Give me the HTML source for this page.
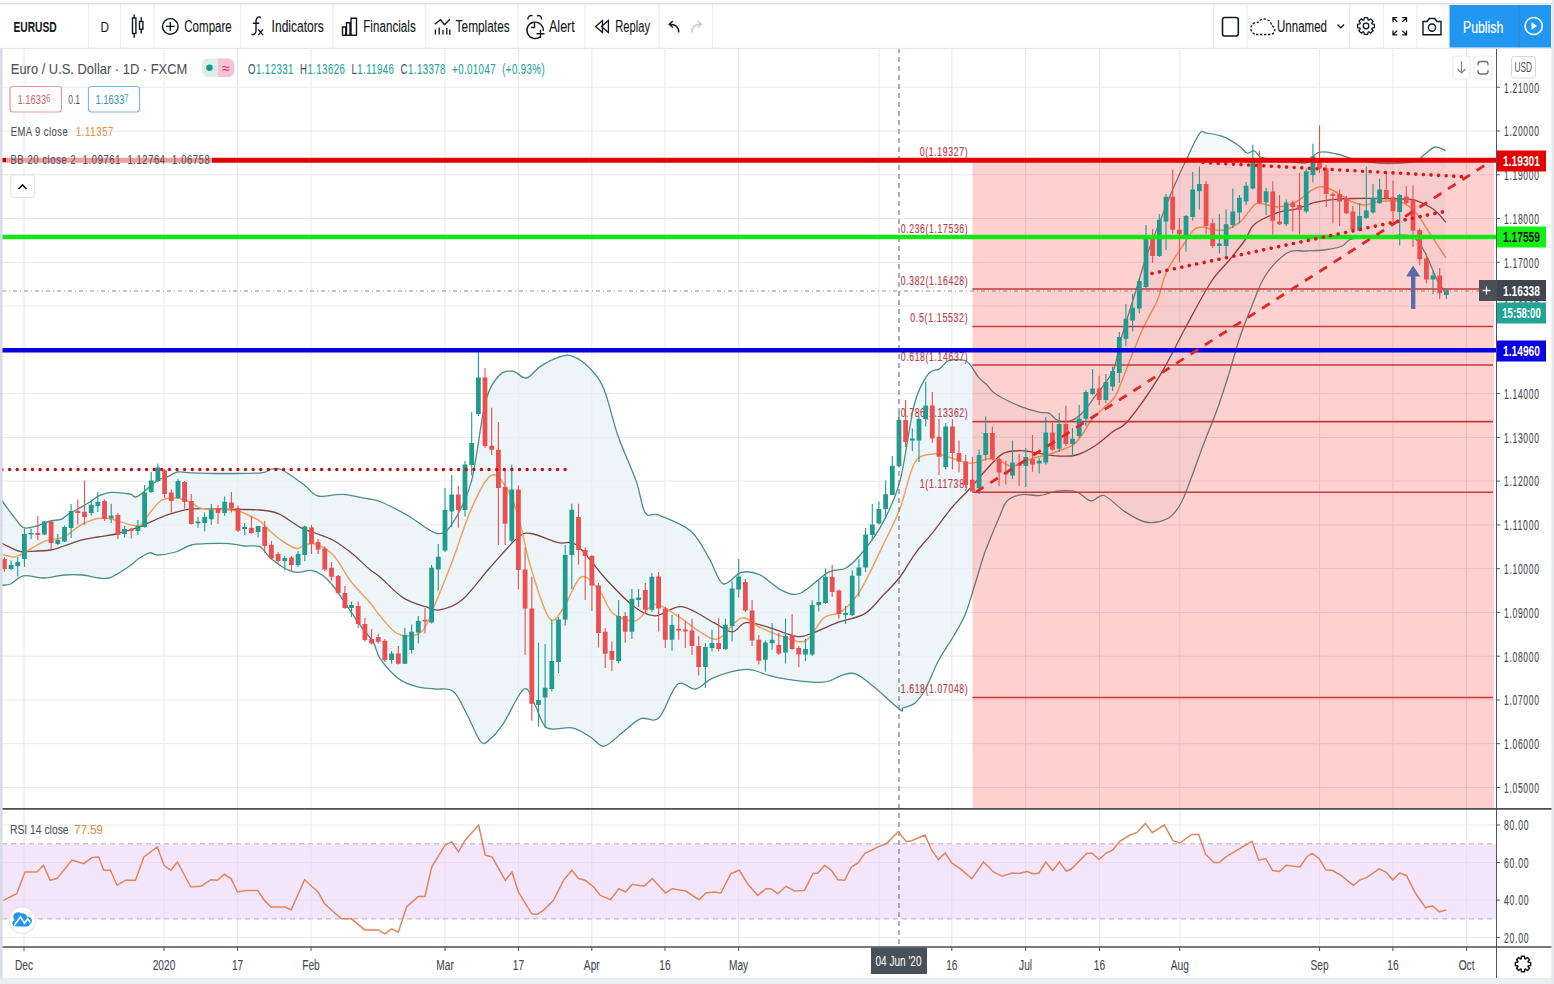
<!DOCTYPE html><html><head><meta charset="utf-8"><style>
html,body{margin:0;padding:0;background:#fff;width:1554px;height:984px;overflow:hidden}
svg{position:absolute;left:0;top:0;font-family:"Liberation Sans", sans-serif}
text{white-space:pre}
</style></head><body>
<svg width="1554" height="984" viewBox="0 0 1554 984">
<path d="M24,48V947 M164,48V947 M237.6,48V947 M311,48V947 M445,48V947 M518.5,48V947 M591.8,48V947 M665,48V947 M738.6,48V947 M879.1,48V947 M951.8,48V947 M1025.6,48V947 M1099.5,48V947 M1179.8,48V947 M1319.6,48V947 M1392.9,48V947 M1466.6,48V947 M2,87.2H1496 M2,131.0H1496 M2,174.8H1496 M2,218.5H1496 M2,262.3H1496 M2,306.1H1496 M2,349.8H1496 M2,393.6H1496 M2,437.4H1496 M2,481.1H1496 M2,524.9H1496 M2,568.7H1496 M2,612.4H1496 M2,656.2H1496 M2,700.0H1496 M2,743.7H1496 M2,787.5H1496 M2,825.0H1496 M2,862.5H1496 M2,900.1H1496 M2,937.6H1496" stroke="#e6e8ec" stroke-width="1" fill="none"/>
<rect x="2" y="843.8" width="1494" height="75.1" fill="#f4e6fa"/>
<path d="M2,843.8H1496" stroke="#b8a8bf" stroke-width="1" stroke-dasharray="5,4"/>
<path d="M2,918.9H1496" stroke="#b8a8bf" stroke-width="1" stroke-dasharray="5,4"/>
<path d="M2,862.5H1496 M2,900.1H1496 M24,843.8V918.9 M164,843.8V918.9 M237.6,843.8V918.9 M311,843.8V918.9 M445,843.8V918.9 M518.5,843.8V918.9 M591.8,843.8V918.9 M665,843.8V918.9 M738.6,843.8V918.9 M879.1,843.8V918.9 M951.8,843.8V918.9 M1025.6,843.8V918.9 M1099.5,843.8V918.9 M1179.8,843.8V918.9 M1319.6,843.8V918.9 M1392.9,843.8V918.9 M1466.6,843.8V918.9" stroke="#e8dcef" stroke-width="1" fill="none"/>
<defs><clipPath id="cl"><rect x="0" y="0" width="972.4" height="984"/></clipPath><clipPath id="cr"><rect x="972.4" y="0" width="600" height="984"/></clipPath></defs>
<path d="M2.0,500.0 C2.4,500.7 2.1,500.9 4.3,504.0 C6.5,507.1 12.1,514.6 15.3,518.6 C18.5,522.6 20.1,526.5 23.6,527.7 C27.2,528.9 32.2,527.1 36.6,526.0 C41.0,524.9 46.2,522.1 50.3,521.0 C54.4,519.9 58.0,520.6 61.0,519.4 C64.0,518.2 65.0,516.2 68.6,514.0 C72.2,511.8 78.6,508.6 82.4,506.4 C86.2,504.2 88.7,502.8 91.5,501.0 C94.3,499.2 95.8,497.1 99.0,495.7 C102.2,494.3 105.8,492.7 111.0,492.4 C116.2,492.1 125.6,493.3 130.0,494.0 C134.4,494.7 133.0,498.7 137.6,496.4 C142.2,494.1 152.4,483.7 157.5,480.4 C162.6,477.1 164.7,478.0 168.0,476.6 C171.3,475.2 173.5,472.6 177.3,472.0 C181.1,471.4 183.6,472.6 191.0,472.8 C198.4,473.1 209.8,473.5 221.5,473.5 C233.2,473.5 252.8,473.5 261.0,472.8 C269.2,472.1 267.4,469.7 271.0,469.2 C274.6,468.7 276.8,467.3 282.4,470.0 C288.0,472.7 298.8,481.0 304.7,485.3 C310.6,489.6 311.7,494.5 318.0,496.0 C324.3,497.5 334.5,493.9 342.7,494.3 C350.9,494.8 361.1,497.5 367.3,498.7 C373.5,499.9 373.3,498.8 380.0,501.5 C386.7,504.2 397.9,509.9 407.4,515.2 C416.9,520.5 429.6,532.4 437.2,533.5 C444.8,534.6 447.5,530.9 453.2,522.1 C458.9,513.3 466.2,500.7 471.5,480.9 C476.8,461.1 480.6,420.7 485.2,403.2 C489.8,385.7 494.3,381.0 498.9,375.7 C503.5,370.4 508.0,370.8 512.6,371.2 C517.2,371.6 521.8,378.8 526.4,378.0 C531.0,377.2 534.8,370.0 540.1,366.6 C545.4,363.2 553.1,359.1 558.4,357.4 C563.7,355.6 566.8,354.2 572.1,356.1 C577.4,358.0 585.1,363.3 590.4,368.9 C595.7,374.5 599.5,378.4 604.1,389.5 C608.7,400.6 612.5,420.0 617.8,435.2 C623.1,450.4 631.5,467.9 636.1,480.9 C640.7,493.8 641.5,507.2 645.3,512.9 C649.1,518.6 651.4,512.2 659.0,515.2 C666.6,518.2 682.6,524.0 691.0,531.2 C699.4,538.5 704.0,549.9 709.3,558.7 C714.6,567.5 717.7,581.5 723.0,583.8 C728.3,586.1 735.2,573.9 741.3,572.4 C747.4,570.9 752.7,571.7 759.6,574.7 C766.5,577.8 775.6,587.7 782.5,590.7 C789.4,593.8 793.2,596.0 800.8,593.0 C808.4,590.0 820.6,576.6 828.2,572.4 C835.8,568.2 840.4,571.6 846.5,567.8 C852.6,564.0 858.7,557.1 864.8,549.5 C870.9,541.9 877.2,533.5 883.1,522.1 C889.0,510.7 894.9,500.2 900.0,480.9 C905.1,461.5 909.6,423.2 913.9,406.0 C918.2,388.8 922.5,383.5 925.7,377.6 C928.9,371.7 930.7,372.1 933.0,370.7 C935.3,369.2 937.0,370.5 939.5,368.9 C942.0,367.3 945.0,362.5 947.7,361.0 C950.5,359.5 953.0,359.7 956.0,359.7 C959.0,359.7 963.4,359.9 966.0,361.0 C968.6,362.1 969.4,363.8 971.5,366.6 C973.6,369.4 976.4,374.7 978.8,377.6 C981.2,380.5 983.7,381.6 986.1,384.0 C988.5,386.4 990.5,389.8 993.4,392.2 C996.3,394.6 998.6,396.1 1003.3,398.5 C1008.0,400.9 1015.5,404.5 1021.6,406.8 C1027.7,409.1 1035.4,411.2 1040.0,412.3 C1044.6,413.4 1046.0,411.8 1049.0,413.2 C1052.0,414.6 1054.5,419.3 1058.2,420.5 C1061.9,421.7 1067.0,421.7 1071.0,420.5 C1075.0,419.3 1078.0,417.2 1082.0,413.2 C1086.0,409.2 1089.6,403.7 1094.8,396.7 C1100.0,389.7 1108.9,379.7 1113.0,371.0 C1117.1,362.3 1117.2,352.9 1119.5,344.4 C1121.8,335.9 1124.0,329.4 1126.8,320.0 C1129.6,310.6 1133.3,298.9 1136.6,288.3 C1139.8,277.7 1142.6,267.2 1146.3,256.6 C1150.0,246.1 1154.0,236.4 1158.5,225.0 C1163.0,213.6 1168.7,198.9 1173.2,188.3 C1177.7,177.7 1181.0,170.6 1185.4,161.5 C1189.8,152.4 1195.9,138.4 1199.5,133.7 C1203.1,129.0 1202.7,132.6 1206.9,133.2 C1211.2,133.8 1219.5,135.2 1225.0,137.4 C1230.5,139.6 1236.1,143.9 1239.8,146.5 C1243.5,149.1 1244.5,152.2 1247.0,153.0 C1249.5,153.8 1252.0,150.2 1254.5,151.0 C1257.0,151.8 1256.7,156.0 1261.8,157.5 C1266.9,159.0 1277.7,159.1 1285.0,160.0 C1292.3,160.9 1300.2,164.3 1305.8,163.0 C1311.4,161.7 1313.4,153.9 1318.6,152.4 C1323.8,150.9 1331.4,153.0 1336.9,154.0 C1342.4,155.0 1346.0,157.2 1351.5,158.5 C1357.0,159.8 1363.7,161.2 1369.8,162.0 C1375.9,162.8 1380.5,163.6 1388.0,163.5 C1395.5,163.4 1408.3,163.2 1414.5,161.6 C1420.7,160.0 1421.6,156.4 1425.0,154.0 C1428.4,151.6 1431.6,147.6 1435.0,147.0 C1438.4,146.4 1443.8,150.0 1445.6,150.6 L1445.6,293.0 C1444.2,290.9 1442.3,289.2 1437.3,280.2 C1432.3,271.2 1425.0,246.0 1415.4,238.8 C1405.9,231.6 1390.6,237.0 1380.0,237.0 C1369.4,237.0 1358.3,237.3 1352.0,238.8 C1345.7,240.3 1346.9,244.1 1342.2,246.0 C1337.5,247.9 1330.1,249.2 1324.0,250.0 C1317.9,250.8 1311.9,250.6 1305.8,251.0 C1299.7,251.4 1294.2,248.6 1287.5,252.7 C1280.8,256.8 1271.7,265.9 1265.4,275.5 C1259.2,285.1 1254.4,299.9 1250.0,310.6 C1245.6,321.4 1242.7,328.9 1239.0,340.0 C1235.3,351.1 1231.7,365.3 1228.0,377.0 C1224.3,388.7 1221.0,399.0 1217.0,410.0 C1213.0,421.0 1208.4,431.4 1204.0,443.0 C1199.6,454.6 1194.6,469.4 1190.6,479.7 C1186.6,490.0 1184.0,498.4 1180.0,505.0 C1176.0,511.6 1172.5,516.2 1166.8,519.0 C1161.1,521.8 1152.6,523.3 1145.6,522.0 C1138.5,520.7 1131.4,515.8 1124.5,511.4 C1117.6,507.0 1109.6,497.2 1104.0,495.5 C1098.4,493.8 1095.6,501.6 1091.0,501.0 C1086.4,500.4 1082.0,493.5 1076.5,491.8 C1071.0,490.1 1064.3,490.4 1058.2,491.0 C1052.1,491.6 1046.1,494.9 1040.0,495.5 C1033.9,496.1 1027.1,493.7 1021.6,494.6 C1016.1,495.5 1010.6,497.5 1007.0,501.0 C1003.4,504.5 1003.7,506.9 1000.0,515.4 C996.3,523.9 989.0,541.2 985.0,552.0 C981.0,562.8 979.6,569.7 976.3,580.0 C973.0,590.3 969.3,604.5 965.4,614.0 C961.5,623.5 957.5,629.2 953.0,637.0 C948.5,644.8 943.0,652.0 938.5,660.5 C934.0,669.0 929.9,680.9 926.0,688.0 C922.1,695.1 918.8,699.7 915.0,703.0 C911.2,706.3 905.5,706.9 903.0,708.0 C900.5,709.1 904.9,713.1 900.0,709.6 C895.1,706.1 881.3,692.7 873.9,686.7 C866.5,680.8 860.9,675.8 855.6,673.9 C850.3,672.0 847.2,673.9 841.9,675.3 C836.6,676.7 832.0,681.4 823.6,682.2 C815.2,683.0 800.8,681.0 791.6,679.9 C782.5,678.8 776.3,677.0 768.7,675.3 C761.1,673.5 755.0,669.0 745.9,669.4 C736.8,669.8 722.3,674.3 713.9,677.6 C705.5,680.9 701.7,687.9 695.6,689.0 C689.5,690.1 683.4,679.6 677.3,684.4 C671.2,689.2 665.1,712.1 659.0,717.8 C652.9,723.5 646.8,716.2 640.7,718.7 C634.6,721.2 628.5,727.9 622.4,732.5 C616.3,737.1 609.4,745.5 604.1,746.2 C598.8,747.0 595.7,740.0 590.4,737.0 C585.1,734.0 579.4,729.4 572.1,727.9 C564.9,726.4 553.1,731.7 546.9,727.9 C540.7,724.1 538.8,711.5 535.0,705.0 C531.2,698.5 529.2,686.0 524.0,689.0 C518.8,692.0 509.2,714.9 503.5,723.3 C497.8,731.7 493.6,736.2 489.8,739.3 C486.0,742.3 484.4,745.8 480.6,741.6 C476.8,737.4 471.5,722.6 466.9,714.2 C462.3,705.8 458.5,695.5 453.2,691.3 C447.9,687.1 441.0,689.8 434.9,689.0 C428.8,688.2 422.7,688.5 416.6,686.7 C410.5,685.0 404.4,683.2 398.3,678.5 C392.2,673.8 384.1,664.4 380.0,658.4 C375.9,652.4 376.7,648.1 373.5,642.7 C370.3,637.3 365.3,632.4 360.7,626.0 C356.1,619.6 350.6,611.0 346.0,604.3 C341.4,597.6 337.2,590.9 333.2,586.0 C329.2,581.1 325.9,577.6 322.2,575.0 C318.5,572.4 315.5,570.9 311.2,570.4 C306.9,569.9 301.2,572.8 296.6,572.3 C292.0,571.8 288.4,570.3 283.8,567.7 C279.2,565.1 273.0,560.2 269.0,556.7 C265.0,553.2 264.1,548.4 260.0,546.6 C255.9,544.8 249.6,546.5 244.4,546.0 C239.2,545.5 235.4,544.1 229.0,543.7 C222.6,543.3 212.3,543.5 206.0,543.7 C199.7,543.9 196.1,543.6 191.0,545.0 C185.9,546.4 181.3,550.3 175.7,552.0 C170.1,553.7 161.8,554.9 157.5,555.0 C153.2,555.1 152.8,552.3 149.8,552.8 C146.8,553.3 142.9,555.8 139.5,558.0 C136.1,560.2 134.3,562.8 129.6,566.0 C124.8,569.2 116.1,575.3 111.0,577.3 C105.9,579.3 103.8,578.4 99.0,578.0 C94.2,577.6 88.2,575.5 82.4,575.0 C76.6,574.5 70.4,574.5 64.0,575.0 C57.6,575.5 50.9,577.9 44.2,578.0 C37.5,578.1 29.2,574.8 23.6,575.8 C18.0,576.8 13.9,582.5 10.7,584.0 C7.5,585.5 5.8,584.7 4.3,585.0 C2.8,585.3 2.4,585.8 2.0,586.0 Z" fill="#e8f2f6" fill-opacity="0.75" stroke="none" clip-path="url(#cl)"/>
<path d="M2.0,500.0 C2.4,500.7 2.1,500.9 4.3,504.0 C6.5,507.1 12.1,514.6 15.3,518.6 C18.5,522.6 20.1,526.5 23.6,527.7 C27.2,528.9 32.2,527.1 36.6,526.0 C41.0,524.9 46.2,522.1 50.3,521.0 C54.4,519.9 58.0,520.6 61.0,519.4 C64.0,518.2 65.0,516.2 68.6,514.0 C72.2,511.8 78.6,508.6 82.4,506.4 C86.2,504.2 88.7,502.8 91.5,501.0 C94.3,499.2 95.8,497.1 99.0,495.7 C102.2,494.3 105.8,492.7 111.0,492.4 C116.2,492.1 125.6,493.3 130.0,494.0 C134.4,494.7 133.0,498.7 137.6,496.4 C142.2,494.1 152.4,483.7 157.5,480.4 C162.6,477.1 164.7,478.0 168.0,476.6 C171.3,475.2 173.5,472.6 177.3,472.0 C181.1,471.4 183.6,472.6 191.0,472.8 C198.4,473.1 209.8,473.5 221.5,473.5 C233.2,473.5 252.8,473.5 261.0,472.8 C269.2,472.1 267.4,469.7 271.0,469.2 C274.6,468.7 276.8,467.3 282.4,470.0 C288.0,472.7 298.8,481.0 304.7,485.3 C310.6,489.6 311.7,494.5 318.0,496.0 C324.3,497.5 334.5,493.9 342.7,494.3 C350.9,494.8 361.1,497.5 367.3,498.7 C373.5,499.9 373.3,498.8 380.0,501.5 C386.7,504.2 397.9,509.9 407.4,515.2 C416.9,520.5 429.6,532.4 437.2,533.5 C444.8,534.6 447.5,530.9 453.2,522.1 C458.9,513.3 466.2,500.7 471.5,480.9 C476.8,461.1 480.6,420.7 485.2,403.2 C489.8,385.7 494.3,381.0 498.9,375.7 C503.5,370.4 508.0,370.8 512.6,371.2 C517.2,371.6 521.8,378.8 526.4,378.0 C531.0,377.2 534.8,370.0 540.1,366.6 C545.4,363.2 553.1,359.1 558.4,357.4 C563.7,355.6 566.8,354.2 572.1,356.1 C577.4,358.0 585.1,363.3 590.4,368.9 C595.7,374.5 599.5,378.4 604.1,389.5 C608.7,400.6 612.5,420.0 617.8,435.2 C623.1,450.4 631.5,467.9 636.1,480.9 C640.7,493.8 641.5,507.2 645.3,512.9 C649.1,518.6 651.4,512.2 659.0,515.2 C666.6,518.2 682.6,524.0 691.0,531.2 C699.4,538.5 704.0,549.9 709.3,558.7 C714.6,567.5 717.7,581.5 723.0,583.8 C728.3,586.1 735.2,573.9 741.3,572.4 C747.4,570.9 752.7,571.7 759.6,574.7 C766.5,577.8 775.6,587.7 782.5,590.7 C789.4,593.8 793.2,596.0 800.8,593.0 C808.4,590.0 820.6,576.6 828.2,572.4 C835.8,568.2 840.4,571.6 846.5,567.8 C852.6,564.0 858.7,557.1 864.8,549.5 C870.9,541.9 877.2,533.5 883.1,522.1 C889.0,510.7 894.9,500.2 900.0,480.9 C905.1,461.5 909.6,423.2 913.9,406.0 C918.2,388.8 922.5,383.5 925.7,377.6 C928.9,371.7 930.7,372.1 933.0,370.7 C935.3,369.2 937.0,370.5 939.5,368.9 C942.0,367.3 945.0,362.5 947.7,361.0 C950.5,359.5 953.0,359.7 956.0,359.7 C959.0,359.7 963.4,359.9 966.0,361.0 C968.6,362.1 969.4,363.8 971.5,366.6 C973.6,369.4 976.4,374.7 978.8,377.6 C981.2,380.5 983.7,381.6 986.1,384.0 C988.5,386.4 990.5,389.8 993.4,392.2 C996.3,394.6 998.6,396.1 1003.3,398.5 C1008.0,400.9 1015.5,404.5 1021.6,406.8 C1027.7,409.1 1035.4,411.2 1040.0,412.3 C1044.6,413.4 1046.0,411.8 1049.0,413.2 C1052.0,414.6 1054.5,419.3 1058.2,420.5 C1061.9,421.7 1067.0,421.7 1071.0,420.5 C1075.0,419.3 1078.0,417.2 1082.0,413.2 C1086.0,409.2 1089.6,403.7 1094.8,396.7 C1100.0,389.7 1108.9,379.7 1113.0,371.0 C1117.1,362.3 1117.2,352.9 1119.5,344.4 C1121.8,335.9 1124.0,329.4 1126.8,320.0 C1129.6,310.6 1133.3,298.9 1136.6,288.3 C1139.8,277.7 1142.6,267.2 1146.3,256.6 C1150.0,246.1 1154.0,236.4 1158.5,225.0 C1163.0,213.6 1168.7,198.9 1173.2,188.3 C1177.7,177.7 1181.0,170.6 1185.4,161.5 C1189.8,152.4 1195.9,138.4 1199.5,133.7 C1203.1,129.0 1202.7,132.6 1206.9,133.2 C1211.2,133.8 1219.5,135.2 1225.0,137.4 C1230.5,139.6 1236.1,143.9 1239.8,146.5 C1243.5,149.1 1244.5,152.2 1247.0,153.0 C1249.5,153.8 1252.0,150.2 1254.5,151.0 C1257.0,151.8 1256.7,156.0 1261.8,157.5 C1266.9,159.0 1277.7,159.1 1285.0,160.0 C1292.3,160.9 1300.2,164.3 1305.8,163.0 C1311.4,161.7 1313.4,153.9 1318.6,152.4 C1323.8,150.9 1331.4,153.0 1336.9,154.0 C1342.4,155.0 1346.0,157.2 1351.5,158.5 C1357.0,159.8 1363.7,161.2 1369.8,162.0 C1375.9,162.8 1380.5,163.6 1388.0,163.5 C1395.5,163.4 1408.3,163.2 1414.5,161.6 C1420.7,160.0 1421.6,156.4 1425.0,154.0 C1428.4,151.6 1431.6,147.6 1435.0,147.0 C1438.4,146.4 1443.8,150.0 1445.6,150.6 L1445.6,293.0 C1444.2,290.9 1442.3,289.2 1437.3,280.2 C1432.3,271.2 1425.0,246.0 1415.4,238.8 C1405.9,231.6 1390.6,237.0 1380.0,237.0 C1369.4,237.0 1358.3,237.3 1352.0,238.8 C1345.7,240.3 1346.9,244.1 1342.2,246.0 C1337.5,247.9 1330.1,249.2 1324.0,250.0 C1317.9,250.8 1311.9,250.6 1305.8,251.0 C1299.7,251.4 1294.2,248.6 1287.5,252.7 C1280.8,256.8 1271.7,265.9 1265.4,275.5 C1259.2,285.1 1254.4,299.9 1250.0,310.6 C1245.6,321.4 1242.7,328.9 1239.0,340.0 C1235.3,351.1 1231.7,365.3 1228.0,377.0 C1224.3,388.7 1221.0,399.0 1217.0,410.0 C1213.0,421.0 1208.4,431.4 1204.0,443.0 C1199.6,454.6 1194.6,469.4 1190.6,479.7 C1186.6,490.0 1184.0,498.4 1180.0,505.0 C1176.0,511.6 1172.5,516.2 1166.8,519.0 C1161.1,521.8 1152.6,523.3 1145.6,522.0 C1138.5,520.7 1131.4,515.8 1124.5,511.4 C1117.6,507.0 1109.6,497.2 1104.0,495.5 C1098.4,493.8 1095.6,501.6 1091.0,501.0 C1086.4,500.4 1082.0,493.5 1076.5,491.8 C1071.0,490.1 1064.3,490.4 1058.2,491.0 C1052.1,491.6 1046.1,494.9 1040.0,495.5 C1033.9,496.1 1027.1,493.7 1021.6,494.6 C1016.1,495.5 1010.6,497.5 1007.0,501.0 C1003.4,504.5 1003.7,506.9 1000.0,515.4 C996.3,523.9 989.0,541.2 985.0,552.0 C981.0,562.8 979.6,569.7 976.3,580.0 C973.0,590.3 969.3,604.5 965.4,614.0 C961.5,623.5 957.5,629.2 953.0,637.0 C948.5,644.8 943.0,652.0 938.5,660.5 C934.0,669.0 929.9,680.9 926.0,688.0 C922.1,695.1 918.8,699.7 915.0,703.0 C911.2,706.3 905.5,706.9 903.0,708.0 C900.5,709.1 904.9,713.1 900.0,709.6 C895.1,706.1 881.3,692.7 873.9,686.7 C866.5,680.8 860.9,675.8 855.6,673.9 C850.3,672.0 847.2,673.9 841.9,675.3 C836.6,676.7 832.0,681.4 823.6,682.2 C815.2,683.0 800.8,681.0 791.6,679.9 C782.5,678.8 776.3,677.0 768.7,675.3 C761.1,673.5 755.0,669.0 745.9,669.4 C736.8,669.8 722.3,674.3 713.9,677.6 C705.5,680.9 701.7,687.9 695.6,689.0 C689.5,690.1 683.4,679.6 677.3,684.4 C671.2,689.2 665.1,712.1 659.0,717.8 C652.9,723.5 646.8,716.2 640.7,718.7 C634.6,721.2 628.5,727.9 622.4,732.5 C616.3,737.1 609.4,745.5 604.1,746.2 C598.8,747.0 595.7,740.0 590.4,737.0 C585.1,734.0 579.4,729.4 572.1,727.9 C564.9,726.4 553.1,731.7 546.9,727.9 C540.7,724.1 538.8,711.5 535.0,705.0 C531.2,698.5 529.2,686.0 524.0,689.0 C518.8,692.0 509.2,714.9 503.5,723.3 C497.8,731.7 493.6,736.2 489.8,739.3 C486.0,742.3 484.4,745.8 480.6,741.6 C476.8,737.4 471.5,722.6 466.9,714.2 C462.3,705.8 458.5,695.5 453.2,691.3 C447.9,687.1 441.0,689.8 434.9,689.0 C428.8,688.2 422.7,688.5 416.6,686.7 C410.5,685.0 404.4,683.2 398.3,678.5 C392.2,673.8 384.1,664.4 380.0,658.4 C375.9,652.4 376.7,648.1 373.5,642.7 C370.3,637.3 365.3,632.4 360.7,626.0 C356.1,619.6 350.6,611.0 346.0,604.3 C341.4,597.6 337.2,590.9 333.2,586.0 C329.2,581.1 325.9,577.6 322.2,575.0 C318.5,572.4 315.5,570.9 311.2,570.4 C306.9,569.9 301.2,572.8 296.6,572.3 C292.0,571.8 288.4,570.3 283.8,567.7 C279.2,565.1 273.0,560.2 269.0,556.7 C265.0,553.2 264.1,548.4 260.0,546.6 C255.9,544.8 249.6,546.5 244.4,546.0 C239.2,545.5 235.4,544.1 229.0,543.7 C222.6,543.3 212.3,543.5 206.0,543.7 C199.7,543.9 196.1,543.6 191.0,545.0 C185.9,546.4 181.3,550.3 175.7,552.0 C170.1,553.7 161.8,554.9 157.5,555.0 C153.2,555.1 152.8,552.3 149.8,552.8 C146.8,553.3 142.9,555.8 139.5,558.0 C136.1,560.2 134.3,562.8 129.6,566.0 C124.8,569.2 116.1,575.3 111.0,577.3 C105.9,579.3 103.8,578.4 99.0,578.0 C94.2,577.6 88.2,575.5 82.4,575.0 C76.6,574.5 70.4,574.5 64.0,575.0 C57.6,575.5 50.9,577.9 44.2,578.0 C37.5,578.1 29.2,574.8 23.6,575.8 C18.0,576.8 13.9,582.5 10.7,584.0 C7.5,585.5 5.8,584.7 4.3,585.0 C2.8,585.3 2.4,585.8 2.0,586.0 Z" fill="#d8e4e8" fill-opacity="0.22" stroke="none" clip-path="url(#cr)"/>
<path d="M2.0,500.0 C2.4,500.7 2.1,500.9 4.3,504.0 C6.5,507.1 12.1,514.6 15.3,518.6 C18.5,522.6 20.1,526.5 23.6,527.7 C27.2,528.9 32.2,527.1 36.6,526.0 C41.0,524.9 46.2,522.1 50.3,521.0 C54.4,519.9 58.0,520.6 61.0,519.4 C64.0,518.2 65.0,516.2 68.6,514.0 C72.2,511.8 78.6,508.6 82.4,506.4 C86.2,504.2 88.7,502.8 91.5,501.0 C94.3,499.2 95.8,497.1 99.0,495.7 C102.2,494.3 105.8,492.7 111.0,492.4 C116.2,492.1 125.6,493.3 130.0,494.0 C134.4,494.7 133.0,498.7 137.6,496.4 C142.2,494.1 152.4,483.7 157.5,480.4 C162.6,477.1 164.7,478.0 168.0,476.6 C171.3,475.2 173.5,472.6 177.3,472.0 C181.1,471.4 183.6,472.6 191.0,472.8 C198.4,473.1 209.8,473.5 221.5,473.5 C233.2,473.5 252.8,473.5 261.0,472.8 C269.2,472.1 267.4,469.7 271.0,469.2 C274.6,468.7 276.8,467.3 282.4,470.0 C288.0,472.7 298.8,481.0 304.7,485.3 C310.6,489.6 311.7,494.5 318.0,496.0 C324.3,497.5 334.5,493.9 342.7,494.3 C350.9,494.8 361.1,497.5 367.3,498.7 C373.5,499.9 373.3,498.8 380.0,501.5 C386.7,504.2 397.9,509.9 407.4,515.2 C416.9,520.5 429.6,532.4 437.2,533.5 C444.8,534.6 447.5,530.9 453.2,522.1 C458.9,513.3 466.2,500.7 471.5,480.9 C476.8,461.1 480.6,420.7 485.2,403.2 C489.8,385.7 494.3,381.0 498.9,375.7 C503.5,370.4 508.0,370.8 512.6,371.2 C517.2,371.6 521.8,378.8 526.4,378.0 C531.0,377.2 534.8,370.0 540.1,366.6 C545.4,363.2 553.1,359.1 558.4,357.4 C563.7,355.6 566.8,354.2 572.1,356.1 C577.4,358.0 585.1,363.3 590.4,368.9 C595.7,374.5 599.5,378.4 604.1,389.5 C608.7,400.6 612.5,420.0 617.8,435.2 C623.1,450.4 631.5,467.9 636.1,480.9 C640.7,493.8 641.5,507.2 645.3,512.9 C649.1,518.6 651.4,512.2 659.0,515.2 C666.6,518.2 682.6,524.0 691.0,531.2 C699.4,538.5 704.0,549.9 709.3,558.7 C714.6,567.5 717.7,581.5 723.0,583.8 C728.3,586.1 735.2,573.9 741.3,572.4 C747.4,570.9 752.7,571.7 759.6,574.7 C766.5,577.8 775.6,587.7 782.5,590.7 C789.4,593.8 793.2,596.0 800.8,593.0 C808.4,590.0 820.6,576.6 828.2,572.4 C835.8,568.2 840.4,571.6 846.5,567.8 C852.6,564.0 858.7,557.1 864.8,549.5 C870.9,541.9 877.2,533.5 883.1,522.1 C889.0,510.7 894.9,500.2 900.0,480.9 C905.1,461.5 909.6,423.2 913.9,406.0 C918.2,388.8 922.5,383.5 925.7,377.6 C928.9,371.7 930.7,372.1 933.0,370.7 C935.3,369.2 937.0,370.5 939.5,368.9 C942.0,367.3 945.0,362.5 947.7,361.0 C950.5,359.5 953.0,359.7 956.0,359.7 C959.0,359.7 963.4,359.9 966.0,361.0 C968.6,362.1 969.4,363.8 971.5,366.6 C973.6,369.4 976.4,374.7 978.8,377.6 C981.2,380.5 983.7,381.6 986.1,384.0 C988.5,386.4 990.5,389.8 993.4,392.2 C996.3,394.6 998.6,396.1 1003.3,398.5 C1008.0,400.9 1015.5,404.5 1021.6,406.8 C1027.7,409.1 1035.4,411.2 1040.0,412.3 C1044.6,413.4 1046.0,411.8 1049.0,413.2 C1052.0,414.6 1054.5,419.3 1058.2,420.5 C1061.9,421.7 1067.0,421.7 1071.0,420.5 C1075.0,419.3 1078.0,417.2 1082.0,413.2 C1086.0,409.2 1089.6,403.7 1094.8,396.7 C1100.0,389.7 1108.9,379.7 1113.0,371.0 C1117.1,362.3 1117.2,352.9 1119.5,344.4 C1121.8,335.9 1124.0,329.4 1126.8,320.0 C1129.6,310.6 1133.3,298.9 1136.6,288.3 C1139.8,277.7 1142.6,267.2 1146.3,256.6 C1150.0,246.1 1154.0,236.4 1158.5,225.0 C1163.0,213.6 1168.7,198.9 1173.2,188.3 C1177.7,177.7 1181.0,170.6 1185.4,161.5 C1189.8,152.4 1195.9,138.4 1199.5,133.7 C1203.1,129.0 1202.7,132.6 1206.9,133.2 C1211.2,133.8 1219.5,135.2 1225.0,137.4 C1230.5,139.6 1236.1,143.9 1239.8,146.5 C1243.5,149.1 1244.5,152.2 1247.0,153.0 C1249.5,153.8 1252.0,150.2 1254.5,151.0 C1257.0,151.8 1256.7,156.0 1261.8,157.5 C1266.9,159.0 1277.7,159.1 1285.0,160.0 C1292.3,160.9 1300.2,164.3 1305.8,163.0 C1311.4,161.7 1313.4,153.9 1318.6,152.4 C1323.8,150.9 1331.4,153.0 1336.9,154.0 C1342.4,155.0 1346.0,157.2 1351.5,158.5 C1357.0,159.8 1363.7,161.2 1369.8,162.0 C1375.9,162.8 1380.5,163.6 1388.0,163.5 C1395.5,163.4 1408.3,163.2 1414.5,161.6 C1420.7,160.0 1421.6,156.4 1425.0,154.0 C1428.4,151.6 1431.6,147.6 1435.0,147.0 C1438.4,146.4 1443.8,150.0 1445.6,150.6" stroke="#4b8d88" stroke-width="1.3" fill="none"/>
<path d="M2.0,586.0 C2.4,585.8 2.8,585.3 4.3,585.0 C5.8,584.7 7.5,585.5 10.7,584.0 C13.9,582.5 18.0,576.8 23.6,575.8 C29.2,574.8 37.5,578.1 44.2,578.0 C50.9,577.9 57.6,575.5 64.0,575.0 C70.4,574.5 76.6,574.5 82.4,575.0 C88.2,575.5 94.2,577.6 99.0,578.0 C103.8,578.4 105.9,579.3 111.0,577.3 C116.1,575.3 124.8,569.2 129.6,566.0 C134.3,562.8 136.1,560.2 139.5,558.0 C142.9,555.8 146.8,553.3 149.8,552.8 C152.8,552.3 153.2,555.1 157.5,555.0 C161.8,554.9 170.1,553.7 175.7,552.0 C181.3,550.3 185.9,546.4 191.0,545.0 C196.1,543.6 199.7,543.9 206.0,543.7 C212.3,543.5 222.6,543.3 229.0,543.7 C235.4,544.1 239.2,545.5 244.4,546.0 C249.6,546.5 255.9,544.8 260.0,546.6 C264.1,548.4 265.0,553.2 269.0,556.7 C273.0,560.2 279.2,565.1 283.8,567.7 C288.4,570.3 292.0,571.8 296.6,572.3 C301.2,572.8 306.9,569.9 311.2,570.4 C315.5,570.9 318.5,572.4 322.2,575.0 C325.9,577.6 329.2,581.1 333.2,586.0 C337.2,590.9 341.4,597.6 346.0,604.3 C350.6,611.0 356.1,619.6 360.7,626.0 C365.3,632.4 370.3,637.3 373.5,642.7 C376.7,648.1 375.9,652.4 380.0,658.4 C384.1,664.4 392.2,673.8 398.3,678.5 C404.4,683.2 410.5,685.0 416.6,686.7 C422.7,688.5 428.8,688.2 434.9,689.0 C441.0,689.8 447.9,687.1 453.2,691.3 C458.5,695.5 462.3,705.8 466.9,714.2 C471.5,722.6 476.8,737.4 480.6,741.6 C484.4,745.8 486.0,742.3 489.8,739.3 C493.6,736.2 497.8,731.7 503.5,723.3 C509.2,714.9 518.8,692.0 524.0,689.0 C529.2,686.0 531.2,698.5 535.0,705.0 C538.8,711.5 540.7,724.1 546.9,727.9 C553.1,731.7 564.9,726.4 572.1,727.9 C579.4,729.4 585.1,734.0 590.4,737.0 C595.7,740.0 598.8,747.0 604.1,746.2 C609.4,745.5 616.3,737.1 622.4,732.5 C628.5,727.9 634.6,721.2 640.7,718.7 C646.8,716.2 652.9,723.5 659.0,717.8 C665.1,712.1 671.2,689.2 677.3,684.4 C683.4,679.6 689.5,690.1 695.6,689.0 C701.7,687.9 705.5,680.9 713.9,677.6 C722.3,674.3 736.8,669.8 745.9,669.4 C755.0,669.0 761.1,673.5 768.7,675.3 C776.3,677.0 782.5,678.8 791.6,679.9 C800.8,681.0 815.2,683.0 823.6,682.2 C832.0,681.4 836.6,676.7 841.9,675.3 C847.2,673.9 850.3,672.0 855.6,673.9 C860.9,675.8 866.5,680.8 873.9,686.7 C881.3,692.7 895.1,706.1 900.0,709.6 C904.9,713.1 900.5,709.1 903.0,708.0 C905.5,706.9 911.2,706.3 915.0,703.0 C918.8,699.7 922.1,695.1 926.0,688.0 C929.9,680.9 934.0,669.0 938.5,660.5 C943.0,652.0 948.5,644.8 953.0,637.0 C957.5,629.2 961.5,623.5 965.4,614.0 C969.3,604.5 973.0,590.3 976.3,580.0 C979.6,569.7 981.0,562.8 985.0,552.0 C989.0,541.2 996.3,523.9 1000.0,515.4 C1003.7,506.9 1003.4,504.5 1007.0,501.0 C1010.6,497.5 1016.1,495.5 1021.6,494.6 C1027.1,493.7 1033.9,496.1 1040.0,495.5 C1046.1,494.9 1052.1,491.6 1058.2,491.0 C1064.3,490.4 1071.0,490.1 1076.5,491.8 C1082.0,493.5 1086.4,500.4 1091.0,501.0 C1095.6,501.6 1098.4,493.8 1104.0,495.5 C1109.6,497.2 1117.6,507.0 1124.5,511.4 C1131.4,515.8 1138.5,520.7 1145.6,522.0 C1152.6,523.3 1161.1,521.8 1166.8,519.0 C1172.5,516.2 1176.0,511.6 1180.0,505.0 C1184.0,498.4 1186.6,490.0 1190.6,479.7 C1194.6,469.4 1199.6,454.6 1204.0,443.0 C1208.4,431.4 1213.0,421.0 1217.0,410.0 C1221.0,399.0 1224.3,388.7 1228.0,377.0 C1231.7,365.3 1235.3,351.1 1239.0,340.0 C1242.7,328.9 1245.6,321.4 1250.0,310.6 C1254.4,299.9 1259.2,285.1 1265.4,275.5 C1271.7,265.9 1280.8,256.8 1287.5,252.7 C1294.2,248.6 1299.7,251.4 1305.8,251.0 C1311.9,250.6 1317.9,250.8 1324.0,250.0 C1330.1,249.2 1337.5,247.9 1342.2,246.0 C1346.9,244.1 1345.7,240.3 1352.0,238.8 C1358.3,237.3 1369.4,237.0 1380.0,237.0 C1390.6,237.0 1405.9,231.6 1415.4,238.8 C1425.0,246.0 1432.3,271.2 1437.3,280.2 C1442.3,289.2 1444.2,290.9 1445.6,293.0" stroke="#4b8d88" stroke-width="1.3" fill="none"/>
<path d="M2.0,543.0 C2.4,543.2 1.3,543.1 4.3,544.5 C7.3,545.9 15.4,550.2 19.8,551.4 C24.2,552.5 25.4,551.6 30.5,551.4 C35.6,551.2 44.7,550.9 50.3,550.0 C55.9,549.1 59.2,547.5 64.0,546.0 C68.8,544.5 73.7,542.2 79.3,540.7 C84.9,539.2 91.5,538.1 97.6,537.0 C103.7,535.9 110.7,535.2 116.0,534.0 C121.3,532.8 125.7,531.2 129.6,530.0 C133.5,528.8 136.1,528.3 139.5,527.0 C142.9,525.7 145.1,524.3 149.8,522.3 C154.6,520.2 161.6,516.9 168.0,514.7 C174.4,512.6 181.7,510.4 188.0,509.4 C194.3,508.4 197.9,508.6 206.0,508.6 C214.1,508.6 227.9,509.2 236.8,509.4 C245.7,509.6 252.7,509.3 259.6,510.0 C266.5,510.7 271.5,510.8 278.3,513.7 C285.1,516.6 294.2,524.2 300.3,527.4 C306.4,530.6 309.5,530.9 315.0,533.0 C320.5,535.1 327.1,536.9 333.2,540.2 C339.3,543.5 345.4,548.1 351.5,553.0 C357.6,557.9 365.1,565.5 369.8,569.5 C374.6,573.5 374.5,572.3 380.0,577.0 C385.5,581.7 395.3,592.6 402.9,597.6 C410.5,602.6 419.6,604.7 425.7,606.7 C431.8,608.8 433.4,611.0 439.5,609.9 C445.6,608.8 453.9,606.8 462.3,599.8 C470.7,592.8 480.6,578.1 489.8,567.8 C499.0,557.5 510.4,543.8 517.2,538.1 C524.1,532.4 524.0,532.7 530.9,533.5 C537.8,534.3 550.8,540.8 558.4,542.7 C566.0,544.6 569.1,539.3 576.7,545.0 C584.3,550.7 595.0,567.1 604.1,577.0 C613.2,586.9 623.1,597.9 631.5,604.4 C639.9,610.9 646.0,615.4 654.4,615.8 C662.8,616.2 672.0,605.6 681.9,606.7 C691.8,607.9 705.5,618.5 713.9,622.7 C722.3,626.9 726.9,631.9 732.2,631.9 C737.5,631.9 739.8,623.5 745.9,622.7 C752.0,621.9 760.3,625.0 768.7,627.3 C777.1,629.6 789.3,635.3 796.2,636.4 C803.1,637.5 803.0,636.4 809.9,634.1 C816.8,631.8 828.2,626.1 837.4,622.7 C846.5,619.3 857.2,618.2 864.8,613.6 C872.4,609.0 877.2,601.4 883.1,595.3 C889.0,589.2 894.7,583.9 900.0,577.0 C905.3,570.1 909.5,561.3 915.0,553.8 C920.5,546.3 927.1,539.4 933.2,531.8 C939.3,524.2 945.4,515.2 951.5,508.0 C957.6,500.8 963.7,495.5 969.8,488.8 C975.9,482.1 982.4,473.7 988.0,467.8 C993.6,461.9 997.7,456.2 1003.3,453.4 C1008.9,450.5 1015.5,450.7 1021.6,450.7 C1027.7,450.7 1033.9,452.5 1040.0,453.4 C1046.1,454.3 1052.1,455.7 1058.2,456.0 C1064.3,456.3 1070.4,456.7 1076.5,455.0 C1082.6,453.3 1088.7,449.9 1094.8,446.0 C1100.9,442.1 1107.3,435.8 1113.0,431.5 C1118.7,427.2 1121.0,429.4 1128.8,420.0 C1136.6,410.6 1150.2,391.4 1160.0,375.4 C1169.8,359.4 1178.9,339.6 1187.4,324.0 C1195.9,308.4 1204.0,292.7 1211.0,282.0 C1218.0,271.3 1223.8,267.0 1229.5,260.0 C1235.2,253.0 1240.8,245.9 1245.0,240.0 C1249.2,234.1 1249.0,228.9 1254.5,224.3 C1260.0,219.7 1271.3,215.0 1278.3,212.4 C1285.3,209.8 1290.5,210.5 1296.6,208.8 C1302.7,207.1 1308.9,203.9 1315.0,202.4 C1321.1,200.9 1326.6,200.2 1333.2,199.6 C1339.8,198.9 1342.8,198.6 1354.4,198.5 C1366.0,198.4 1392.8,198.7 1403.0,199.0 C1413.2,199.3 1410.3,198.7 1415.4,200.4 C1420.5,202.2 1428.6,205.8 1433.7,209.5 C1438.8,213.2 1443.9,220.2 1445.9,222.3" stroke="#7a4646" stroke-width="1.3" fill="none"/>
<path d="M2.0,554.0 C2.4,554.2 2.1,554.5 4.3,555.0 C6.5,555.5 10.9,557.7 15.3,556.7 C19.7,555.7 25.4,551.7 30.5,549.0 C35.6,546.3 40.2,542.7 45.8,540.7 C51.4,538.7 58.4,539.5 64.0,537.0 C69.6,534.5 73.7,529.1 79.3,526.0 C84.9,522.9 92.0,519.7 97.6,518.6 C103.2,517.5 107.6,518.4 112.9,519.4 C118.2,520.4 125.2,523.7 129.6,524.7 C134.0,525.7 136.9,526.4 139.5,525.5 C142.1,524.6 141.5,523.4 145.0,519.3 C148.5,515.2 155.4,504.6 160.5,501.0 C165.6,497.4 170.6,497.8 175.7,498.0 C180.8,498.2 186.7,500.7 191.0,502.5 C195.3,504.3 196.6,507.5 201.7,508.6 C206.8,509.8 215.2,508.9 221.5,509.4 C227.8,509.9 234.7,510.3 239.8,511.6 C244.9,512.9 248.6,515.4 252.0,517.0 C255.4,518.6 256.8,518.5 260.0,521.0 C263.2,523.5 267.0,528.5 271.0,532.0 C275.0,535.5 279.5,539.2 283.8,542.0 C288.1,544.8 293.2,547.9 296.6,548.5 C300.0,549.1 300.9,546.5 304.0,545.7 C307.1,545.0 310.1,542.5 315.0,544.0 C319.9,545.5 327.1,548.6 333.2,555.0 C339.3,561.4 345.4,574.4 351.5,582.3 C357.6,590.2 365.1,596.8 369.8,602.4 C374.6,608.0 375.2,610.5 380.0,615.8 C384.8,621.1 391.4,631.4 398.3,634.1 C405.2,636.8 415.1,636.9 421.2,631.9 C427.3,626.9 429.6,616.6 434.9,604.4 C440.2,592.2 447.1,574.7 453.2,558.7 C459.3,542.7 465.4,522.1 471.5,508.4 C477.6,494.7 484.5,480.6 489.8,476.4 C495.1,472.2 498.9,477.1 503.5,483.2 C508.1,489.3 512.6,498.8 517.2,512.9 C521.8,527.0 525.6,550.3 530.9,567.8 C536.2,585.3 543.9,611.2 549.2,618.1 C554.5,625.0 557.6,615.9 562.9,609.0 C568.2,602.1 575.1,580.0 581.2,577.0 C587.3,574.0 594.2,584.6 599.5,590.7 C604.8,596.8 607.1,608.7 613.2,613.6 C619.3,618.5 629.2,621.9 636.1,620.4 C643.0,618.9 647.5,605.2 654.4,604.4 C661.3,603.6 669.7,611.2 677.3,615.8 C684.9,620.4 693.2,628.1 700.1,631.9 C707.0,635.7 711.5,641.0 718.4,638.7 C725.3,636.4 734.4,620.0 741.3,618.1 C748.2,616.2 752.7,624.2 759.6,627.3 C766.5,630.3 774.9,634.1 782.5,636.4 C790.1,638.7 798.4,644.0 805.3,641.0 C812.1,638.0 817.5,623.1 823.6,618.1 C829.7,613.1 835.8,615.9 841.9,611.3 C848.0,606.7 853.3,601.8 860.2,590.7 C867.1,579.7 876.5,558.7 883.1,545.0 C889.7,531.3 894.7,522.2 900.0,508.4 C905.3,494.6 909.4,471.4 914.9,462.3 C920.4,453.2 928.6,455.2 933.2,454.0 C937.8,452.8 936.3,453.5 942.4,455.0 C948.5,456.5 962.2,462.6 969.8,463.2 C977.4,463.8 983.0,459.1 988.0,458.7 C993.0,458.3 995.5,459.4 999.6,460.7 C1003.7,461.9 1007.3,466.5 1012.5,466.2 C1017.7,465.9 1024.7,461.0 1030.8,459.0 C1036.9,457.0 1043.8,455.9 1049.0,454.3 C1054.2,452.8 1057.9,451.2 1061.9,449.7 C1065.9,448.2 1069.5,447.6 1072.8,445.2 C1076.1,442.8 1079.0,439.1 1082.0,435.0 C1085.0,430.9 1087.3,425.1 1091.0,420.5 C1094.7,415.9 1100.0,411.7 1104.0,407.7 C1108.0,403.7 1111.8,401.8 1115.0,396.7 C1118.2,391.6 1118.9,388.1 1123.3,377.2 C1127.7,366.3 1135.9,344.4 1141.6,331.5 C1147.3,318.6 1153.3,309.9 1157.5,300.0 C1161.7,290.1 1162.0,281.4 1166.6,271.8 C1171.2,262.2 1180.3,249.5 1184.9,242.5 C1189.5,235.5 1191.0,232.3 1194.0,229.7 C1197.0,227.1 1200.1,227.0 1203.2,227.0 C1206.3,227.0 1208.8,229.2 1212.4,229.7 C1216.0,230.1 1220.4,230.9 1225.0,229.7 C1229.6,228.5 1235.8,225.4 1239.8,222.4 C1243.8,219.4 1246.0,214.7 1249.0,211.5 C1252.0,208.3 1253.1,203.9 1258.0,203.2 C1262.9,202.4 1271.9,207.3 1278.3,207.0 C1284.7,206.7 1291.1,204.2 1296.6,201.5 C1302.1,198.8 1307.2,192.9 1311.2,190.5 C1315.2,188.1 1316.7,186.8 1320.4,186.8 C1324.1,186.8 1328.0,188.1 1333.2,190.5 C1338.4,192.9 1346.3,199.1 1351.5,201.5 C1356.7,203.9 1359.7,205.0 1364.3,205.0 C1368.9,205.0 1373.0,202.1 1379.0,201.5 C1385.0,200.9 1393.9,199.8 1400.0,201.5 C1406.1,203.2 1410.8,207.2 1415.4,212.0 C1420.0,216.8 1422.5,222.4 1427.6,230.0 C1432.7,237.6 1442.9,253.1 1445.9,257.7" stroke="#f2a25e" stroke-width="1.5" fill="none"/>
<rect x="972.4" y="160" width="521.6" height="648" fill="#ff1a1a" fill-opacity="0.2"/>
<path d="M972.4,289H1493 M972.4,326.5H1493 M972.4,365H1493 M972.4,421.6H1493 M972.4,492.3H1493 M972.4,697.5H1493" stroke="#c43a3a" stroke-width="1.6" fill="none"/>
<text transform="translate(968.3,155.8) scale(0.6448,1)" font-size="13.5" fill="#c0404a" text-anchor="end" stroke="#c0404a" stroke-width="0.2" letter-spacing="1.0">0(1.19327)</text>
<text transform="translate(968.3,232.8) scale(0.6408,1)" font-size="13.5" fill="#c0404a" text-anchor="end" stroke="#c0404a" stroke-width="0.2" letter-spacing="1.0">0.236(1.17536)</text>
<text transform="translate(968.3,284.8) scale(0.6408,1)" font-size="13.5" fill="#c0404a" text-anchor="end" stroke="#c0404a" stroke-width="0.2" letter-spacing="1.0">0.382(1.16428)</text>
<text transform="translate(968.3,322.3) scale(0.6556,1)" font-size="13.5" fill="#c0404a" text-anchor="end" stroke="#c0404a" stroke-width="0.2" letter-spacing="1.0">0.5(1.15532)</text>
<text transform="translate(968.3,360.8) scale(0.6408,1)" font-size="13.5" fill="#c0404a" text-anchor="end" stroke="#c0404a" stroke-width="0.2" letter-spacing="1.0">0.618(1.14637)</text>
<text transform="translate(968.3,417.40000000000003) scale(0.6408,1)" font-size="13.5" fill="#c0404a" text-anchor="end" stroke="#c0404a" stroke-width="0.2" letter-spacing="1.0">0.786(1.13362)</text>
<text transform="translate(968.3,488.1) scale(0.6536,1)" font-size="13.5" fill="#c0404a" text-anchor="end" stroke="#c0404a" stroke-width="0.2" letter-spacing="1.0">1(1.11738)</text>
<text transform="translate(968.3,693.3) scale(0.6408,1)" font-size="13.5" fill="#c0404a" text-anchor="end" stroke="#c0404a" stroke-width="0.2" letter-spacing="1.0">1.618(1.07048)</text>
<path d="M11.1,560.5V570.0 M17.7,557.0V576.5 M24.4,528.5V567.0 M31.1,528.5V539.0 M44.4,521.0V535.0 M57.8,534.0V545.0 M64.5,525.5V542.0 M71.1,504.0V538.0 M91.2,499.5V515.5 M97.8,492.0V512.0 M111.2,504.0V523.0 M124.5,526.0V537.6 M137.9,520.0V535.0 M144.6,485.0V527.7 M151.2,472.0V493.0 M157.9,463.6V482.0 M178.0,479.0V498.7 M198.0,517.0V527.7 M204.7,512.4V531.5 M211.3,504.0V525.0 M224.7,496.4V516.0 M244.7,523.0V535.0 M258.1,526.0V537.6 M284.8,556.0V570.4 M298.1,551.0V566.8 M304.8,525.6V561.3 M351.5,601.5V617.0 M391.6,651.0V663.7 M404.9,628.0V664.0 M411.6,624.4V653.6 M418.3,616.0V643.6 M431.6,565.0V623.5 M438.3,544.0V590.5 M445.0,488.0V552.0 M451.7,475.0V527.0 M465.0,461.0V516.4 M471.7,412.0V475.4 M478.4,351.0V416.0 M511.8,464.4V542.4 M538.5,642.7V726.8 M545.1,644.0V728.0 M551.8,619.5V691.5 M558.5,617.0V673.0 M565.2,545.0V625.6 M571.8,503.7V589.0 M618.6,600.0V663.4 M631.9,589.0V639.0 M638.6,589.0V607.0 M651.9,573.0V612.0 M672.0,615.0V650.7 M705.4,643.0V688.0 M712.0,629.6V651.6 M725.4,618.7V649.7 M732.1,581.0V641.5 M738.7,559.0V597.6 M765.4,640.6V671.7 M772.1,623.0V649.7 M785.5,618.8V663.6 M805.5,639.0V661.0 M812.2,600.5V656.0 M818.8,579.4V611.5 M825.5,568.5V604.0 M845.6,606.0V624.0 M852.2,570.3V616.0 M858.9,559.3V596.8 M865.6,528.0V572.0 M872.3,504.0V539.0 M878.9,501.6V524.5 M885.6,480.6V519.0 M892.3,456.0V495.0 M899.0,412.0V467.8 M912.3,428.5V451.0 M919.0,416.6V462.0 M925.7,382.0V426.6 M945.7,423.0V469.6 M979.1,449.5V494.0 M985.7,416.6V460.5 M1012.5,440.6V479.0 M1025.8,448.0V487.0 M1039.2,458.0V473.5 M1045.8,417.0V464.4 M1059.2,413.0V452.0 M1072.5,428.0V456.0 M1079.2,405.0V438.0 M1085.9,390.0V426.0 M1092.6,369.0V395.0 M1105.9,374.0V403.0 M1112.6,366.5V391.0 M1119.3,332.0V383.0 M1125.9,304.0V346.0 M1132.6,294.0V331.5 M1139.3,279.0V313.0 M1146.0,225.0V288.0 M1159.3,214.0V257.0 M1166.0,194.0V250.0 M1186.0,215.0V251.7 M1192.7,172.0V220.6 M1199.4,166.6V209.6 M1219.4,214.0V253.5 M1226.1,209.6V256.0 M1232.8,188.6V228.0 M1239.4,195.0V223.3 M1246.1,182.0V205.0 M1252.8,144.7V189.5 M1266.1,187.7V215.0 M1286.2,199.6V226.0 M1306.2,168.5V213.3 M1312.9,143.8V182.3 M1359.6,203.3V231.6 M1366.3,166.7V219.0 M1373.0,184.0V213.5 M1379.6,178.7V204.0 M1399.7,194.0V245.4 M1433.0,270.6V294.0 M1446.4,288.5V299.0" stroke="#229b8f" stroke-width="1.1" fill="none"/>
<path d="M4.4,557.5V572.0 M37.8,516.0V540.0 M51.1,521.0V551.0 M77.8,499.5V524.7 M84.5,480.5V524.7 M104.5,499.5V521.0 M117.9,513.0V539.0 M131.2,527.7V538.4 M164.6,469.0V498.0 M171.3,489.5V512.4 M184.6,481.0V508.6 M191.3,494.0V524.6 M218.0,505.0V524.0 M231.4,492.0V512.4 M238.0,505.5V532.0 M251.4,516.0V533.7 M264.7,521.0V553.0 M271.4,541.0V559.5 M278.1,552.0V564.0 M291.4,556.0V571.3 M311.5,525.0V554.0 M318.1,539.0V554.0 M324.8,546.6V571.3 M331.5,562.0V580.5 M338.2,575.0V594.0 M344.9,586.0V609.0 M358.2,601.5V628.0 M364.9,618.0V641.8 M371.6,629.0V644.5 M378.2,633.5V643.6 M384.9,639.0V662.0 M398.3,646.0V664.6 M425.0,608.0V633.5 M458.3,486.0V527.8 M485.0,368.0V448.0 M491.7,407.7V455.0 M498.4,422.0V545.0 M505.1,470.0V545.0 M518.4,485.5V589.6 M525.1,547.6V655.0 M531.8,576.8V720.7 M578.5,503.7V564.6 M585.2,547.6V600.0 M591.9,555.0V611.0 M598.5,583.0V647.6 M605.2,628.0V668.0 M611.9,641.5V670.7 M625.2,612.0V642.7 M645.3,583.0V613.4 M658.6,572.0V631.5 M665.3,606.8V648.0 M678.7,614.0V639.7 M685.3,620.5V648.0 M692.0,618.7V655.0 M698.7,636.0V675.4 M718.7,617.7V651.6 M745.4,579.0V612.0 M752.1,600.0V646.0 M758.8,635.0V664.4 M778.8,633.0V655.0 M792.1,614.0V650.0 M798.8,646.0V667.0 M832.2,564.8V596.8 M838.9,589.5V618.8 M905.6,400.0V447.0 M932.3,392.0V443.0 M939.0,419.0V475.0 M952.4,419.0V469.6 M959.0,440.4V472.4 M965.7,455.0V488.0 M972.4,456.8V491.6 M992.4,426.6V460.5 M999.1,457.0V486.0 M1005.8,460.7V484.5 M1019.1,454.0V486.0 M1032.5,435.0V471.7 M1052.5,423.0V450.7 M1065.9,405.8V446.0 M1099.2,375.7V405.0 M1152.6,229.0V262.7 M1172.7,169.4V233.4 M1179.4,218.0V262.7 M1206.1,181.0V234.3 M1212.7,218.8V248.0 M1259.5,151.0V204.0 M1272.8,181.3V234.4 M1279.5,195.0V225.0 M1292.8,200.5V231.6 M1299.5,173.0V234.4 M1319.5,125.5V173.0 M1326.2,165.0V207.0 M1332.9,192.3V223.4 M1339.6,189.6V226.0 M1346.3,196.0V214.0 M1352.9,206.0V232.5 M1386.3,172.5V199.6 M1393.0,180.5V223.4 M1406.3,186.0V204.0 M1413.0,185.2V247.0 M1419.7,228.3V265.0 M1426.4,253.5V283.6 M1439.7,268.0V299.0" stroke="#ec4f4f" stroke-width="1.1" fill="none"/>
<path d="M8.7,565.0h4.8V569.0h-4.8Z M15.3,562.0h4.8V566.0h-4.8Z M22.0,534.0h4.8V559.0h-4.8Z M28.7,533.0h4.8V534.6h-4.8Z M42.0,521.6h4.8V534.6h-4.8Z M55.4,540.0h4.8V544.0h-4.8Z M62.1,527.0h4.8V541.5h-4.8Z M68.7,511.0h4.8V528.0h-4.8Z M88.8,505.0h4.8V513.0h-4.8Z M95.4,502.0h4.8V506.0h-4.8Z M108.8,515.5h4.8V518.6h-4.8Z M122.1,529.0h4.8V534.0h-4.8Z M135.5,526.0h4.8V531.0h-4.8Z M142.2,492.6h4.8V527.0h-4.8Z M148.8,480.4h4.8V492.0h-4.8Z M155.5,467.4h4.8V481.0h-4.8Z M175.6,481.0h4.8V498.0h-4.8Z M195.6,521.4h4.8V523.2h-4.8Z M202.3,517.0h4.8V523.0h-4.8Z M208.9,509.4h4.8V519.3h-4.8Z M222.3,501.7h4.8V513.0h-4.8Z M242.3,527.0h4.8V529.0h-4.8Z M255.7,526.0h4.8V532.0h-4.8Z M282.4,558.0h4.8V561.0h-4.8Z M295.7,554.0h4.8V565.0h-4.8Z M302.4,526.5h4.8V555.0h-4.8Z M349.1,605.0h4.8V608.0h-4.8Z M389.2,653.6h4.8V660.0h-4.8Z M402.5,635.0h4.8V663.7h-4.8Z M409.2,631.7h4.8V650.0h-4.8Z M415.9,620.7h4.8V632.6h-4.8Z M429.2,567.7h4.8V622.5h-4.8Z M435.9,556.7h4.8V569.5h-4.8Z M442.6,510.0h4.8V550.5h-4.8Z M449.3,494.5h4.8V511.5h-4.8Z M462.6,464.4h4.8V510.0h-4.8Z M469.3,443.0h4.8V465.0h-4.8Z M476.0,377.5h4.8V414.0h-4.8Z M509.4,489.6h4.8V540.8h-4.8Z M536.1,700.0h4.8V705.0h-4.8Z M542.7,687.8h4.8V697.6h-4.8Z M549.4,661.0h4.8V689.0h-4.8Z M556.1,619.5h4.8V662.0h-4.8Z M562.8,555.0h4.8V619.5h-4.8Z M569.4,509.8h4.8V555.0h-4.8Z M616.2,615.9h4.8V661.0h-4.8Z M629.5,598.8h4.8V631.7h-4.8Z M636.2,597.6h4.8V600.0h-4.8Z M649.5,576.8h4.8V609.8h-4.8Z M669.6,625.0h4.8V639.7h-4.8Z M703.0,647.0h4.8V667.0h-4.8Z M709.6,643.0h4.8V648.0h-4.8Z M723.0,625.0h4.8V649.0h-4.8Z M729.7,588.5h4.8V626.0h-4.8Z M736.3,576.6h4.8V589.4h-4.8Z M763.0,642.4h4.8V659.8h-4.8Z M769.7,639.7h4.8V643.3h-4.8Z M783.1,636.0h4.8V652.6h-4.8Z M803.1,649.0h4.8V654.4h-4.8Z M809.8,605.0h4.8V654.4h-4.8Z M816.4,602.0h4.8V605.0h-4.8Z M823.1,576.7h4.8V603.0h-4.8Z M843.2,613.0h4.8V615.0h-4.8Z M849.8,575.8h4.8V615.0h-4.8Z M856.5,567.6h4.8V575.8h-4.8Z M863.2,534.6h4.8V567.6h-4.8Z M869.9,524.5h4.8V535.0h-4.8Z M876.5,509.0h4.8V523.6h-4.8Z M883.2,494.3h4.8V509.0h-4.8Z M889.9,466.0h4.8V495.0h-4.8Z M896.6,420.0h4.8V466.0h-4.8Z M909.9,438.5h4.8V440.4h-4.8Z M916.6,419.0h4.8V440.4h-4.8Z M923.3,405.6h4.8V419.0h-4.8Z M943.3,426.6h4.8V467.0h-4.8Z M976.7,455.0h4.8V488.0h-4.8Z M983.3,433.0h4.8V455.0h-4.8Z M1010.1,462.6h4.8V475.4h-4.8Z M1023.4,457.0h4.8V466.0h-4.8Z M1036.8,460.7h4.8V463.5h-4.8Z M1043.4,432.4h4.8V462.6h-4.8Z M1056.8,424.0h4.8V448.8h-4.8Z M1070.1,438.8h4.8V444.0h-4.8Z M1076.8,418.7h4.8V436.0h-4.8Z M1083.5,392.0h4.8V418.7h-4.8Z M1090.2,388.5h4.8V394.0h-4.8Z M1103.5,382.0h4.8V400.0h-4.8Z M1110.2,371.0h4.8V386.6h-4.8Z M1116.9,337.0h4.8V373.0h-4.8Z M1123.5,318.7h4.8V338.8h-4.8Z M1130.2,307.7h4.8V320.5h-4.8Z M1136.9,281.0h4.8V308.6h-4.8Z M1143.6,239.0h4.8V287.0h-4.8Z M1156.9,219.7h4.8V256.0h-4.8Z M1163.6,196.8h4.8V221.5h-4.8Z M1183.6,216.0h4.8V235.0h-4.8Z M1190.3,189.5h4.8V217.0h-4.8Z M1197.0,184.0h4.8V191.3h-4.8Z M1217.0,243.5h4.8V246.0h-4.8Z M1223.7,224.3h4.8V246.0h-4.8Z M1230.4,211.5h4.8V225.0h-4.8Z M1237.0,197.7h4.8V212.4h-4.8Z M1243.7,185.8h4.8V201.4h-4.8Z M1250.4,161.0h4.8V188.6h-4.8Z M1263.7,191.3h4.8V202.3h-4.8Z M1283.8,202.4h4.8V224.3h-4.8Z M1303.8,171.3h4.8V211.5h-4.8Z M1310.5,156.6h4.8V175.0h-4.8Z M1357.2,216.0h4.8V230.7h-4.8Z M1363.9,210.6h4.8V218.0h-4.8Z M1370.6,197.8h4.8V212.4h-4.8Z M1377.2,189.5h4.8V203.2h-4.8Z M1397.3,195.0h4.8V212.0h-4.8Z M1430.6,275.5h4.8V279.5h-4.8Z M1444.0,290.0h4.8V295.0h-4.8Z" fill="#229b8f"/>
<path d="M2.0,559.0h4.8V569.0h-4.8Z M35.4,533.0h4.8V535.0h-4.8Z M48.7,521.6h4.8V543.0h-4.8Z M75.4,511.0h4.8V513.0h-4.8Z M82.1,511.7h4.8V517.0h-4.8Z M102.1,501.0h4.8V519.0h-4.8Z M115.5,515.0h4.8V535.0h-4.8Z M128.8,529.0h4.8V531.0h-4.8Z M162.2,470.5h4.8V494.0h-4.8Z M168.9,492.6h4.8V501.0h-4.8Z M182.2,482.0h4.8V502.0h-4.8Z M188.9,501.0h4.8V524.0h-4.8Z M215.6,508.0h4.8V513.0h-4.8Z M229.0,502.5h4.8V508.6h-4.8Z M235.6,508.0h4.8V530.7h-4.8Z M249.0,527.7h4.8V533.0h-4.8Z M262.3,527.0h4.8V546.0h-4.8Z M269.0,544.8h4.8V558.5h-4.8Z M275.7,554.0h4.8V561.0h-4.8Z M289.0,557.6h4.8V565.0h-4.8Z M309.1,527.4h4.8V544.0h-4.8Z M315.7,542.0h4.8V549.4h-4.8Z M322.4,548.5h4.8V569.5h-4.8Z M329.1,567.7h4.8V576.8h-4.8Z M335.8,576.0h4.8V593.0h-4.8Z M342.5,593.0h4.8V608.0h-4.8Z M355.8,606.0h4.8V624.0h-4.8Z M362.5,624.0h4.8V640.0h-4.8Z M369.2,639.0h4.8V643.6h-4.8Z M375.8,637.0h4.8V641.8h-4.8Z M382.5,640.8h4.8V660.0h-4.8Z M395.9,653.6h4.8V663.7h-4.8Z M422.6,619.8h4.8V621.6h-4.8Z M455.9,494.5h4.8V510.0h-4.8Z M482.6,377.5h4.8V446.0h-4.8Z M489.3,445.7h4.8V449.7h-4.8Z M496.0,449.8h4.8V488.0h-4.8Z M502.7,487.0h4.8V523.7h-4.8Z M516.0,489.6h4.8V570.0h-4.8Z M522.7,569.5h4.8V608.5h-4.8Z M529.4,608.5h4.8V703.7h-4.8Z M576.1,517.0h4.8V550.0h-4.8Z M582.8,550.0h4.8V556.0h-4.8Z M589.5,556.0h4.8V585.4h-4.8Z M596.1,585.4h4.8V633.0h-4.8Z M602.8,631.7h4.8V653.7h-4.8Z M609.5,651.0h4.8V659.8h-4.8Z M622.8,615.9h4.8V631.7h-4.8Z M642.9,590.0h4.8V609.8h-4.8Z M656.2,576.6h4.8V608.6h-4.8Z M662.9,608.6h4.8V639.7h-4.8Z M676.3,628.7h4.8V630.5h-4.8Z M682.9,629.6h4.8V631.5h-4.8Z M689.6,630.5h4.8V646.0h-4.8Z M696.3,646.0h4.8V667.0h-4.8Z M716.3,643.0h4.8V649.0h-4.8Z M743.0,582.0h4.8V610.4h-4.8Z M749.7,610.4h4.8V640.6h-4.8Z M756.4,639.7h4.8V660.7h-4.8Z M776.4,645.0h4.8V653.5h-4.8Z M789.7,635.0h4.8V649.0h-4.8Z M796.4,648.0h4.8V654.4h-4.8Z M829.8,576.7h4.8V592.0h-4.8Z M836.5,590.4h4.8V614.0h-4.8Z M903.2,420.0h4.8V442.0h-4.8Z M929.9,405.6h4.8V438.5h-4.8Z M936.6,436.7h4.8V456.8h-4.8Z M950.0,426.6h4.8V453.0h-4.8Z M956.6,453.0h4.8V461.4h-4.8Z M963.3,461.4h4.8V485.0h-4.8Z M970.0,479.7h4.8V491.6h-4.8Z M990.0,433.0h4.8V458.7h-4.8Z M996.7,459.0h4.8V472.6h-4.8Z M1003.4,472.6h4.8V474.4h-4.8Z M1016.7,463.5h4.8V466.0h-4.8Z M1030.1,459.0h4.8V464.4h-4.8Z M1050.1,432.4h4.8V449.7h-4.8Z M1063.5,424.0h4.8V444.0h-4.8Z M1096.8,388.5h4.8V400.0h-4.8Z M1150.2,239.0h4.8V256.0h-4.8Z M1170.3,196.8h4.8V229.7h-4.8Z M1177.0,229.7h4.8V234.3h-4.8Z M1203.7,184.0h4.8V226.0h-4.8Z M1210.3,223.3h4.8V246.0h-4.8Z M1257.1,160.0h4.8V203.0h-4.8Z M1270.4,191.4h4.8V220.7h-4.8Z M1277.1,221.6h4.8V224.3h-4.8Z M1290.4,202.4h4.8V207.0h-4.8Z M1297.1,205.0h4.8V209.7h-4.8Z M1317.1,159.4h4.8V168.5h-4.8Z M1323.8,168.5h4.8V194.0h-4.8Z M1330.5,194.0h4.8V196.0h-4.8Z M1337.2,194.0h4.8V201.5h-4.8Z M1343.9,197.8h4.8V213.3h-4.8Z M1350.5,211.5h4.8V229.8h-4.8Z M1383.9,190.0h4.8V198.0h-4.8Z M1390.6,197.2h4.8V211.3h-4.8Z M1403.9,196.6h4.8V203.0h-4.8Z M1410.6,199.8h4.8V230.7h-4.8Z M1417.3,230.0h4.8V259.2h-4.8Z M1424.0,258.4h4.8V279.5h-4.8Z M1437.3,275.5h4.8V293.3h-4.8Z" fill="#ec4f4f"/>
<path d="M2,291H1496" stroke="#8a8e99" stroke-width="1" stroke-dasharray="4,3,1,3" fill="none"/>
<path d="M899,48V947" stroke="#787b86" stroke-width="1.2" stroke-dasharray="5,4" fill="none"/>
<path d="M2,160.2H1496" stroke="#e00000" stroke-width="5"/>
<path d="M2,237H1496" stroke="#14e614" stroke-width="4.5"/>
<path d="M2,350.3H1496" stroke="#0800dc" stroke-width="4.6"/>
<path d="M2,469.5H571" stroke="#c81010" stroke-width="3.5" stroke-linecap="round" stroke-dasharray="0.01,7.6" fill="none"/>
<path d="M1203,162.5L1462,176.6" stroke="#d81818" stroke-width="3.6" stroke-linecap="round" stroke-dasharray="0.01,7.6" fill="none"/>
<path d="M1152,273.5L1443,211.8" stroke="#d81818" stroke-width="3.6" stroke-linecap="round" stroke-dasharray="0.01,7.6" fill="none"/>
<path d="M976,492L1490,162" stroke="#e02828" stroke-width="2.8" stroke-dasharray="9,8" fill="none"/>
<path d="M1411,309V276.6H1406.2L1413,265.6L1420.2,276.6H1415.4V309Z" fill="#5a6aaa"/>
<path d="M3.3,900.4 L16.7,893.7 L25.0,872.0 L36.8,872.0 L43.5,865.3 L50.2,880.3 L56.9,878.6 L72.0,860.0 L83.7,863.6 L92.0,857.6 L98.7,857.0 L103.7,870.3 L110.4,870.3 L117.0,885.3 L125.5,880.3 L135.5,880.3 L143.9,857.0 L157.3,846.9 L164.0,865.3 L170.7,870.3 L177.4,862.0 L190.8,887.0 L200.8,886.3 L210.8,879.7 L217.5,880.3 L224.2,874.3 L231.0,878.6 L237.6,892.0 L246.0,890.4 L257.7,890.4 L264.4,900.4 L271.0,907.0 L284.5,907.0 L291.2,909.8 L304.6,879.7 L318.0,892.0 L324.6,903.7 L341.4,918.8 L351.4,918.8 L364.8,929.9 L378.2,929.9 L384.9,933.9 L391.6,928.8 L398.3,932.2 L406.6,907.0 L418.3,896.4 L425.0,896.4 L431.7,867.0 L445.1,845.2 L451.8,841.8 L458.5,851.9 L465.2,840.2 L478.6,825.1 L485.3,855.2 L492.0,856.9 L505.4,880.3 L512.0,872.0 L518.4,892.0 L531.8,913.8 L536.8,914.5 L543.5,910.4 L553.5,900.4 L563.5,880.3 L571.9,870.3 L578.6,878.6 L585.3,880.3 L593.7,887.0 L600.4,895.4 L610.4,899.7 L618.8,888.7 L625.5,892.0 L632.2,884.3 L643.9,886.3 L652.2,878.6 L665.6,893.0 L672.3,888.7 L685.7,891.0 L699.1,899.7 L705.8,893.0 L714.2,892.0 L720.8,893.0 L730.9,873.6 L739.3,870.3 L747.6,883.7 L757.7,895.4 L766.0,888.7 L771.0,888.7 L777.7,893.7 L786.1,886.3 L794.5,891.0 L804.5,890.4 L812.9,873.6 L817.9,873.0 L824.6,865.3 L831.3,870.3 L838.0,879.7 L844.7,880.3 L851.4,867.0 L858.0,863.0 L864.7,853.5 L878.1,846.9 L886.5,843.5 L898.2,831.8 L906.6,841.8 L911.6,840.8 L925.0,835.1 L931.7,850.2 L938.4,859.6 L945.1,852.9 L951.8,862.9 L960.1,868.6 L971.8,878.6 L983.6,861.9 L993.6,872.0 L1002.0,876.3 L1012.0,873.0 L1018.7,873.6 L1026.9,871.5 L1033.7,874.0 L1038.9,873.0 L1045.8,862.0 L1052.6,870.5 L1059.5,862.0 L1066.4,871.2 L1071.5,868.8 L1087.0,853.3 L1092.2,853.3 L1099.0,859.5 L1105.9,853.3 L1112.8,849.9 L1119.7,841.3 L1130.0,835.0 L1136.8,832.7 L1145.4,823.4 L1152.3,832.7 L1164.3,824.8 L1172.9,840.6 L1179.8,843.0 L1191.8,834.4 L1198.7,834.4 L1205.6,854.3 L1214.2,862.6 L1219.3,862.6 L1226.2,856.7 L1252.0,841.3 L1258.8,860.2 L1265.7,858.5 L1272.6,870.5 L1279.5,871.5 L1286.3,865.3 L1300.0,867.0 L1307.0,856.7 L1312.1,853.3 L1319.0,858.5 L1325.8,869.8 L1332.7,870.5 L1341.3,875.7 L1353.3,885.3 L1360.2,879.8 L1367.0,877.4 L1379.1,868.8 L1386.0,872.2 L1392.8,879.8 L1399.7,872.9 L1406.6,875.7 L1415.2,892.8 L1425.5,907.6 L1432.4,905.9 L1439.2,911.8 L1446.1,910.0" stroke="#e0865e" stroke-width="1.5" fill="none"/>
<rect x="1496" y="48" width="58" height="936" fill="#fff"/>
<rect x="0" y="947" width="1496" height="37" fill="#fff"/>
<path d="M1496.5,48V978" stroke="#50535e" stroke-width="1"/>
<path d="M2,808.8H1554" stroke="#4a4d55" stroke-width="1.8"/>
<path d="M2,947H1554" stroke="#4a4d55" stroke-width="1.6"/>
<path d="M0,979H1554" stroke="#e0e3eb" stroke-width="1.5"/>
<path d="M1.3,4V984" stroke="#d9dbe6" stroke-width="2.6"/>
<text transform="translate(1504,92.53099999999976) scale(0.5872,1)" font-size="14.5" fill="#4a4d56" stroke="#4a4d56" stroke-width="0.15" letter-spacing="1.2">1.21000</text>
<text transform="translate(1504,136.29799999999983) scale(0.5872,1)" font-size="14.5" fill="#4a4d56" stroke="#4a4d56" stroke-width="0.15" letter-spacing="1.2">1.20000</text>
<text transform="translate(1504,180.06499999999986) scale(0.5872,1)" font-size="14.5" fill="#4a4d56" stroke="#4a4d56" stroke-width="0.15" letter-spacing="1.2">1.19000</text>
<text transform="translate(1504,223.83199999999988) scale(0.5872,1)" font-size="14.5" fill="#4a4d56" stroke="#4a4d56" stroke-width="0.15" letter-spacing="1.2">1.18000</text>
<text transform="translate(1504,267.59899999999993) scale(0.5872,1)" font-size="14.5" fill="#4a4d56" stroke="#4a4d56" stroke-width="0.15" letter-spacing="1.2">1.17000</text>
<text transform="translate(1504,311.36599999999993) scale(0.5872,1)" font-size="14.5" fill="#4a4d56" stroke="#4a4d56" stroke-width="0.15" letter-spacing="1.2">1.16000</text>
<text transform="translate(1504,355.133) scale(0.5872,1)" font-size="14.5" fill="#4a4d56" stroke="#4a4d56" stroke-width="0.15" letter-spacing="1.2">1.15000</text>
<text transform="translate(1504,398.90000000000003) scale(0.5872,1)" font-size="14.5" fill="#4a4d56" stroke="#4a4d56" stroke-width="0.15" letter-spacing="1.2">1.14000</text>
<text transform="translate(1504,442.6670000000001) scale(0.5872,1)" font-size="14.5" fill="#4a4d56" stroke="#4a4d56" stroke-width="0.15" letter-spacing="1.2">1.13000</text>
<text transform="translate(1504,486.43400000000014) scale(0.5872,1)" font-size="14.5" fill="#4a4d56" stroke="#4a4d56" stroke-width="0.15" letter-spacing="1.2">1.12000</text>
<text transform="translate(1504,530.201) scale(0.5980,1)" font-size="14.5" fill="#4a4d56" stroke="#4a4d56" stroke-width="0.15" letter-spacing="1.2">1.11000</text>
<text transform="translate(1504,573.9680000000001) scale(0.5872,1)" font-size="14.5" fill="#4a4d56" stroke="#4a4d56" stroke-width="0.15" letter-spacing="1.2">1.10000</text>
<text transform="translate(1504,617.7350000000001) scale(0.5872,1)" font-size="14.5" fill="#4a4d56" stroke="#4a4d56" stroke-width="0.15" letter-spacing="1.2">1.09000</text>
<text transform="translate(1504,661.5019999999993) scale(0.5872,1)" font-size="14.5" fill="#4a4d56" stroke="#4a4d56" stroke-width="0.15" letter-spacing="1.2">1.08000</text>
<text transform="translate(1504,705.2690000000002) scale(0.5872,1)" font-size="14.5" fill="#4a4d56" stroke="#4a4d56" stroke-width="0.15" letter-spacing="1.2">1.07000</text>
<text transform="translate(1504,749.0359999999994) scale(0.5872,1)" font-size="14.5" fill="#4a4d56" stroke="#4a4d56" stroke-width="0.15" letter-spacing="1.2">1.06000</text>
<text transform="translate(1504,792.8029999999993) scale(0.5872,1)" font-size="14.5" fill="#4a4d56" stroke="#4a4d56" stroke-width="0.15" letter-spacing="1.2">1.05000</text>
<text transform="translate(1504,830.1) scale(0.6176,1)" font-size="14" fill="#4a4d56" stroke="#4a4d56" stroke-width="0.15" letter-spacing="1.2">80.00</text>
<text transform="translate(1504,867.65) scale(0.6176,1)" font-size="14" fill="#4a4d56" stroke="#4a4d56" stroke-width="0.15" letter-spacing="1.2">60.00</text>
<text transform="translate(1504,905.2) scale(0.6176,1)" font-size="14" fill="#4a4d56" stroke="#4a4d56" stroke-width="0.15" letter-spacing="1.2">40.00</text>
<text transform="translate(1504,942.75) scale(0.6176,1)" font-size="14" fill="#4a4d56" stroke="#4a4d56" stroke-width="0.15" letter-spacing="1.2">20.00</text>
<text transform="translate(24,969.5) scale(0.6800,1)" font-size="15" fill="#4a4d56" text-anchor="middle" stroke="#4a4d56" stroke-width="0.15">Dec</text>
<text transform="translate(164,969.5) scale(0.6800,1)" font-size="15" fill="#4a4d56" text-anchor="middle" stroke="#4a4d56" stroke-width="0.15">2020</text>
<text transform="translate(237.6,969.5) scale(0.6800,1)" font-size="15" fill="#4a4d56" text-anchor="middle" stroke="#4a4d56" stroke-width="0.15">17</text>
<text transform="translate(311,969.5) scale(0.6800,1)" font-size="15" fill="#4a4d56" text-anchor="middle" stroke="#4a4d56" stroke-width="0.15">Feb</text>
<text transform="translate(445,969.5) scale(0.6800,1)" font-size="15" fill="#4a4d56" text-anchor="middle" stroke="#4a4d56" stroke-width="0.15">Mar</text>
<text transform="translate(518.5,969.5) scale(0.6800,1)" font-size="15" fill="#4a4d56" text-anchor="middle" stroke="#4a4d56" stroke-width="0.15">17</text>
<text transform="translate(591.8,969.5) scale(0.6800,1)" font-size="15" fill="#4a4d56" text-anchor="middle" stroke="#4a4d56" stroke-width="0.15">Apr</text>
<text transform="translate(665,969.5) scale(0.6800,1)" font-size="15" fill="#4a4d56" text-anchor="middle" stroke="#4a4d56" stroke-width="0.15">16</text>
<text transform="translate(738.6,969.5) scale(0.6800,1)" font-size="15" fill="#4a4d56" text-anchor="middle" stroke="#4a4d56" stroke-width="0.15">May</text>
<text transform="translate(951.8,969.5) scale(0.6800,1)" font-size="15" fill="#4a4d56" text-anchor="middle" stroke="#4a4d56" stroke-width="0.15">16</text>
<text transform="translate(1025.6,969.5) scale(0.6800,1)" font-size="15" fill="#4a4d56" text-anchor="middle" stroke="#4a4d56" stroke-width="0.15">Jul</text>
<text transform="translate(1099.5,969.5) scale(0.6800,1)" font-size="15" fill="#4a4d56" text-anchor="middle" stroke="#4a4d56" stroke-width="0.15">16</text>
<text transform="translate(1179.8,969.5) scale(0.6800,1)" font-size="15" fill="#4a4d56" text-anchor="middle" stroke="#4a4d56" stroke-width="0.15">Aug</text>
<text transform="translate(1319.6,969.5) scale(0.6800,1)" font-size="15" fill="#4a4d56" text-anchor="middle" stroke="#4a4d56" stroke-width="0.15">Sep</text>
<text transform="translate(1392.9,969.5) scale(0.6800,1)" font-size="15" fill="#4a4d56" text-anchor="middle" stroke="#4a4d56" stroke-width="0.15">16</text>
<text transform="translate(1466.6,969.5) scale(0.6800,1)" font-size="15" fill="#4a4d56" text-anchor="middle" stroke="#4a4d56" stroke-width="0.15">Oct</text>
<path d="M1496,87.2h4 M1496,131.0h4 M1496,174.8h4 M1496,218.5h4 M1496,262.3h4 M1496,306.1h4 M1496,349.8h4 M1496,393.6h4 M1496,437.4h4 M1496,481.1h4 M1496,524.9h4 M1496,568.7h4 M1496,612.4h4 M1496,656.2h4 M1496,700.0h4 M1496,743.7h4 M1496,787.5h4 M1496,825.0h4 M1496,862.5h4 M1496,900.1h4 M1496,937.6h4 M24,947v4 M164,947v4 M237.6,947v4 M311,947v4 M445,947v4 M518.5,947v4 M591.8,947v4 M665,947v4 M738.6,947v4 M951.8,947v4 M1025.6,947v4 M1099.5,947v4 M1179.8,947v4 M1319.6,947v4 M1392.9,947v4 M1466.6,947v4" stroke="#50535e" stroke-width="1"/>
<rect x="1497" y="150.5" width="49" height="21.0" fill="#e50000"/><text transform="translate(1521.5,166.0) scale(0.7312,1)" font-size="14" fill="#fff" text-anchor="middle" font-weight="bold">1.19301</text>
<rect x="1497" y="226.5" width="49" height="21.0" fill="#14f014"/><text transform="translate(1521.5,242.0) scale(0.7312,1)" font-size="14" fill="#1a1a1a" text-anchor="middle" font-weight="bold">1.17559</text>
<rect x="1479" y="280" width="18" height="21" fill="#4a4f59"/>
<path d="M1482.5,290.5h8M1486.5,286.5v8" stroke="#fff" stroke-width="1.3"/>
<rect x="1497" y="280" width="49" height="21" fill="#40454f"/><text transform="translate(1521.5,295.5) scale(0.7312,1)" font-size="14" fill="#fff" text-anchor="middle" font-weight="bold">1.16338</text>
<rect x="1497" y="302.5" width="49" height="21.0" fill="#22a394"/><text transform="translate(1521.5,318.0) scale(0.6906,1)" font-size="14" fill="#fff" text-anchor="middle" font-weight="bold">15:58:00</text>
<rect x="1497" y="340.5" width="49" height="21.0" fill="#0a00e6"/><text transform="translate(1521.5,356.0) scale(0.7312,1)" font-size="14" fill="#fff" text-anchor="middle" font-weight="bold">1.14960</text>
<rect x="871" y="947.5" width="56" height="26.5" fill="#4a5058"/>
<text transform="translate(898.5,966) scale(0.6922,1)" font-size="14.5" fill="#fff" text-anchor="middle">04 Jun &#39;20</text>
<rect x="0" y="0" width="1554" height="48" fill="#fff"/>
<path d="M0,3.8H1554" stroke="#dfe1e6" stroke-width="1.6"/>
<path d="M0,48.3H1554" stroke="#e3e5ea" stroke-width="1.2"/>
<path d="M88.5,4.5V48 M120.5,4.5V48 M154,4.5V48 M240.7,4.5V48 M333,4.5V48 M425.5,4.5V48 M518,4.5V48 M585,4.5V48 M659,4.5V48 M712.5,4.5V48 M1213.5,4.5V48 M1247,4.5V48 M1349.5,4.5V48 M1383.5,4.5V48 M1417,4.5V48" stroke="#eceef1" stroke-width="1.2"/>
<text transform="translate(13.5,31.7) scale(0.6615,1)" font-size="15.5" fill="#131722" font-weight="bold">EURUSD</text>
<text transform="translate(100.5,31.7) scale(0.7593,1)" font-size="15.5" fill="#131722">D</text>
<text transform="translate(184.3,31.6) scale(0.7204,1)" font-size="16" fill="#131722" stroke="#131722" stroke-width="0.1">Compare</text>
<text transform="translate(271.6,31.6) scale(0.7526,1)" font-size="16" fill="#131722" stroke="#131722" stroke-width="0.1">Indicators</text>
<text transform="translate(363.2,31.6) scale(0.7303,1)" font-size="16" fill="#131722" stroke="#131722" stroke-width="0.1">Financials</text>
<text transform="translate(455.6,31.6) scale(0.7419,1)" font-size="16" fill="#131722" stroke="#131722" stroke-width="0.1">Templates</text>
<text transform="translate(549,31.6) scale(0.7843,1)" font-size="16" fill="#131722" stroke="#131722" stroke-width="0.1">Alert</text>
<text transform="translate(615.2,31.6) scale(0.6988,1)" font-size="16" fill="#131722" stroke="#131722" stroke-width="0.1">Replay</text>
<text transform="translate(1277,31.6) scale(0.7208,1)" font-size="16" fill="#131722" stroke="#131722" stroke-width="0.1">Unnamed</text>
<rect x="1449.5" y="5" width="69" height="42.5" fill="#2196f3"/>
<rect x="1519" y="5" width="32" height="42.5" fill="#2196f3"/>
<path d="M1518.7,5V47.5" stroke="#1a7fd0" stroke-width="1"/>
<text transform="translate(1463,32.5) scale(0.7680,1)" font-size="16" fill="#fff" stroke="#fff" stroke-width="0.2">Publish</text>
<g stroke="#131722" stroke-width="1.4" fill="none">
<path d="M134.2,14.5V37.7M141.2,17.2V33.5"/><rect x="132.5" y="18" width="3.4" height="15.5" fill="#fff"/><rect x="139.5" y="21.5" width="3.4" height="7.7" fill="#fff"/>
<circle cx="170.3" cy="26.4" r="7.8"/><path d="M166,26.4h8.6M170.3,22.1v8.6"/>
<path d="M261,17.5c-3,-1.5 -4.5,0 -5,3v10.5c-0.3,3 -2,4 -4.5,3.3M252.8,23.3h6.5"/><path d="M258.2,29.3l4.8,5.8M263,29.3l-4.8,5.8" stroke-width="1.3"/>
<path d="M342.5,35V27h3.2v8M346.5,35V22.8h3.5V35M351,35V18.3h5.5V35M342,35.2h15"/>
<path d="M434.8,24.3l5.7,-4.5l4,5l5.4,-5.6" /><path d="M435.4,29.5v5M439.2,27.5v7M443,30v4.5M446.8,28v6.5M449.8,29.5v5.5" stroke-width="1.3"/>
<path d="M540.5,36.5a8.2,8.2 0 1 1 2.8,-5.6M534.5,22v5.5h-3.5"/><path d="M528,19.5a3.2,3.2 0 0 1 4.5,-3.6M537,15.9a3.2,3.2 0 0 1 4.5,3.6"/><path d="M536.5,33.8h8M540.5,29.8v8.3"/>
<path d="M602.5,20.5L595.6,26.5L602.5,32.5ZM608.4,20.5L601.5,26.5L608.4,32.5Z" stroke-width="1.3"/>
<path d="M678.8,32.5c0,-6 -3,-8.3 -9,-8.3M672.8,21l-3.6,3.3l3.6,3.2"/>
<path d="M691.8,32.5c0,-6 3,-8.3 9,-8.3M697.8,21l3.6,3.3l-3.6,3.2" stroke="#c9cbd1"/>
<rect x="1222.5" y="17.5" width="15.8" height="18.5" rx="2.2" stroke-width="1.6"/>
<path d="M1256,34.5h14.5a4.5,4.5 0 0 0 1.2,-8.8a7.5,7.5 0 0 0 -13.8,-3.2a5.7,5.7 0 0 0 -1.9,12Z" stroke-dasharray="2.4,1.6" stroke-width="1.3"/>
<path d="M1337.5,24.5l3.3,3.3l3.3,-3.3" stroke-width="1.3"/>
<path d="M1372.05,23.93 L1374.43,24.32 L1374.43,27.68 L1372.05,28.07 L1371.75,28.82 L1373.15,30.78 L1370.78,33.15 L1368.82,31.75 L1368.07,32.05 L1367.68,34.43 L1364.32,34.43 L1363.93,32.05 L1363.18,31.75 L1361.22,33.15 L1358.85,30.78 L1360.25,28.82 L1359.95,28.07 L1357.57,27.68 L1357.57,24.32 L1359.95,23.93 L1360.25,23.18 L1358.85,21.22 L1361.22,18.85 L1363.18,20.25 L1363.93,19.95 L1364.32,17.57 L1367.68,17.57 L1368.07,19.95 L1368.82,20.25 L1370.78,18.85 L1373.15,21.22 L1371.75,23.18Z" stroke-width="1.3" stroke-linejoin="round"/><circle cx="1366" cy="26" r="2.8" stroke-width="1.3"/>
<path d="M1393,22v-4.3h4.3M1393,17.7l4.2,4.2M1406.5,22v-4.3h-4.3M1406.5,17.7l-4.2,4.2M1393,30.5v4.3h4.3M1393,34.8l4.2,-4.2M1406.5,30.5v4.3h-4.3M1406.5,34.8l-4.2,-4.2" stroke-width="1.3"/>
<path d="M1423,21.5h4.2l2,-3h5.6l2,3h4.2v13.3h-18Z" stroke-width="1.4"/><circle cx="1432" cy="27.6" r="3.6" stroke-width="1.4"/>
</g>
<circle cx="1533.7" cy="26" r="8.6" stroke="#fff" stroke-width="1.5" fill="none"/><path d="M1531.5,22v8l5.5,-4Z" fill="#fff"/>
<text transform="translate(10.8,73.8) scale(0.8390,1)" font-size="15.4" fill="#4f525c" stroke="#4f525c" stroke-width="0.1">Euro / U.S. Dollar · 1D · FXCM</text>
<rect x="202" y="58.6" width="32.3" height="18.3" rx="6" fill="#dcefed"/>
<path d="M218,58.6h10.3a6,6 0 0 1 6,6v6.3a6,6 0 0 1 -6,6h-10.3Z" fill="#f6c3d6"/>
<circle cx="209.5" cy="67.8" r="3.2" fill="#1d9a86"/>
<text x="226" y="72.5" font-size="14" fill="#d0246a" text-anchor="middle">≈</text>
<text transform="translate(248,74) scale(0.6918,1)" font-size="14" fill="#26a69a" stroke="#26a69a" stroke-width="0.1" letter-spacing="0.6"><tspan fill="#50535e">O</tspan>1.12331  <tspan fill="#50535e">H</tspan>1.13626  <tspan fill="#50535e">L</tspan>1.11946  <tspan fill="#50535e">C</tspan>1.13378  +0.01047  (+0.93%)</text>
<rect x="10" y="86.5" width="51.5" height="25.5" rx="3" fill="#fff" stroke="#e89a9a" stroke-width="1.2"/>
<text transform="translate(17.4,104.4) scale(0.7526,1)" font-size="12.5" fill="#d2606a">1.1633<tspan font-size="10" dy="-2.5">6</tspan></text>
<text transform="translate(68.2,103.5) scale(0.6791,1)" font-size="12.5" fill="#50535e">0.1</text>
<rect x="88.5" y="86.5" width="51" height="25.5" rx="3" fill="#fff" stroke="#7fb8e0" stroke-width="1.2"/>
<text transform="translate(95.5,104.4) scale(0.7526,1)" font-size="12.5" fill="#3a8fd0">1.1633<tspan font-size="10" dy="-2.5">7</tspan></text>
<text transform="translate(10.8,136.4) scale(0.7271,1)" font-size="13" fill="#4f525c" stroke="#4f525c" stroke-width="0.1" letter-spacing="0.6">EMA 9 close</text>
<text transform="translate(75.9,136.4) scale(0.7293,1)" font-size="13" fill="#e39040" stroke="#e39040" stroke-width="0.1" letter-spacing="0.9">1.11357</text>
<rect x="2" y="151" width="210" height="18" fill="#fff" fill-opacity="0.62"/>
<text transform="translate(10.5,164.4) scale(0.7171,1)" font-size="13" fill="#4f525c" stroke="#4f525c" stroke-width="0.1" letter-spacing="0.9">BB 20 close 2  1.09761  1.12764  1.06758</text>
<rect x="2.5" y="158" width="3.5" height="4" fill="#c80000"/>
<rect x="10.8" y="175" width="23.4" height="22.5" rx="2" fill="#fff" stroke="#e0e3eb" stroke-width="1"/>
<path d="M18.5,189l4,-4l4,4" stroke="#131722" stroke-width="1.6" fill="none"/>
<rect x="1453" y="56" width="17" height="23" rx="2" fill="#fff" stroke="#e6e8ee"/>
<rect x="1474" y="56" width="18" height="23" rx="2" fill="#fff" stroke="#e6e8ee"/>
<path d="M1461.5,61v12M1457.5,69l4,4l4,-4" stroke="#7b7e88" stroke-width="1.1" fill="none"/>
<path d="M1478,65.5v-1.5a2.5,2.5 0 0 1 2.5,-2.5h5a2.5,2.5 0 0 1 2.5,2.5v1.5M1478,70v1.5a2.5,2.5 0 0 0 2.5,2.5h5a2.5,2.5 0 0 0 2.5,-2.5v-1.5" stroke="#6b6e78" stroke-width="1.3" fill="none"/>
<rect x="1511.5" y="56.5" width="24" height="21.5" rx="2.5" fill="#fff" stroke="#d6d9e0"/>
<text transform="translate(1523.3,72.3) scale(0.5716,1)" font-size="14.5" fill="#4f525c" text-anchor="middle">USD</text>
<text transform="translate(10,833.5) scale(0.7657,1)" font-size="13.5" fill="#4f525c" stroke="#4f525c" stroke-width="0.1">RSI 14 close</text>
<text transform="translate(74.3,833.5) scale(0.8496,1)" font-size="13.5" fill="#e39040" stroke="#e39040" stroke-width="0.1">77.59</text>
<circle cx="22.3" cy="920" r="13.2" fill="#fff" stroke="#e3e5ea" stroke-width="1.2"/>
<path d="M15.5,926.6a3.2,3.2 0 0 1 -0.8,-6.3a4.5,4.5 0 0 1 6.5,-6.8a4.8,4.8 0 0 1 6,3.8a3.6,3.6 0 0 1 2.8,6.6q-0.6,2.7 -3,2.7Z" fill="#2196f3"/>
<path d="M14.2,925.5l6.2,-8.6l4,6.2l3.2,-4.2l2.5,3.4" stroke="#fff" stroke-width="1.6" fill="none"/>
<path d="M1528.30,962.19 L1530.65,962.48 L1530.65,965.52 L1528.30,965.81 L1528.03,966.46 L1529.49,968.33 L1527.33,970.49 L1525.46,969.03 L1524.81,969.30 L1524.52,971.65 L1521.48,971.65 L1521.19,969.30 L1520.54,969.03 L1518.67,970.49 L1516.51,968.33 L1517.97,966.46 L1517.70,965.81 L1515.35,965.52 L1515.35,962.48 L1517.70,962.19 L1517.97,961.54 L1516.51,959.67 L1518.67,957.51 L1520.54,958.97 L1521.19,958.70 L1521.48,956.35 L1524.52,956.35 L1524.81,958.70 L1525.46,958.97 L1527.33,957.51 L1529.49,959.67 L1528.03,961.54Z" fill="none" stroke="#131722" stroke-width="1.5" stroke-linejoin="round"/>
<rect x="0" y="978.5" width="1554" height="5.5" fill="#eceef2"/>
<rect x="1551.5" y="0" width="2.5" height="984" fill="#e6e8ee"/>
</svg></body></html>
